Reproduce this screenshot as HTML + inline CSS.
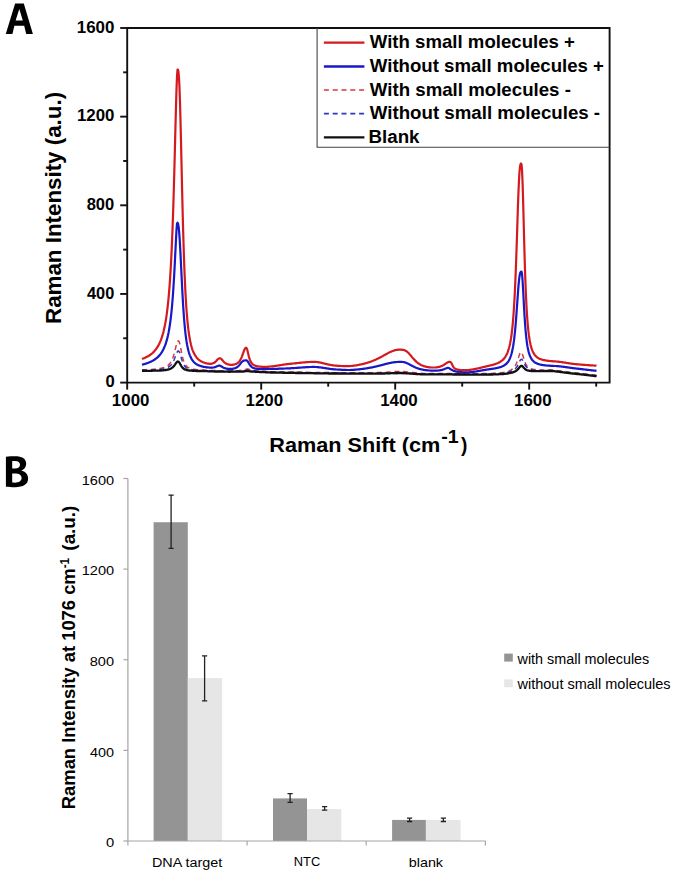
<!DOCTYPE html>
<html><head><meta charset="utf-8"><style>
html,body{margin:0;padding:0;background:#fff;}
svg{display:block;font-family:"Liberation Sans",sans-serif;}
text{white-space:pre;}
</style></head><body>
<svg width="675" height="873" viewBox="0 0 675 873">
<rect width="675" height="873" fill="#fff"/>

<path d="M5.8,34 L15.1,3.6 L23.8,3.6 L32.9,34 L26.2,34 L24.2,25.8 L14.4,25.8 L12.4,34 Z M15.6,20.6 L22.8,20.6 L19.3,8.9 Z" fill="#000" fill-rule="evenodd"/>
<path d="M5.9,456.8 C9,456.4 12,456.3 15,456.3 C22,456.3 26.2,458.6 26.2,463.8 C26.2,467.2 24.2,469.5 21.2,470.6 C25.2,471.6 28.1,474.3 28.1,478.6 C28.1,484.6 23.2,487.2 15.2,487.2 C11.5,487.2 8.2,487 5.9,486.7 Z M12.2,461.1 V468.6 H15 C18.2,468.6 20,467.2 20,464.8 C20,462.3 18.2,461 15.3,461 C13.8,461 12.8,461 12.2,461.1 Z M12.2,473.6 V482.6 C12.9,482.7 13.8,482.7 15,482.7 C18.6,482.7 21.6,481.3 21.6,478.1 C21.6,475 18.8,473.6 15,473.6 Z" fill="#000" fill-rule="evenodd"/>

<rect x="153.6" y="522.23" width="34.20" height="318.77" fill="#949494"/><rect x="187.8" y="678.10" width="34.30" height="162.90" fill="#e6e6e6"/><rect x="273.0" y="798.41" width="34.00" height="42.59" fill="#949494"/><rect x="307.0" y="809.05" width="34.30" height="31.95" fill="#e6e6e6"/><rect x="392.1" y="819.93" width="33.80" height="21.07" fill="#949494"/><rect x="425.9" y="819.93" width="34.70" height="21.07" fill="#e6e6e6"/><path d="M127.9,478.50 V841.0 H485.4" fill="none" stroke="#a6a6a6" stroke-width="1.2"/><line x1="123.4" y1="841.00" x2="127.9" y2="841.00" stroke="#a6a6a6" stroke-width="1.2"/><line x1="123.4" y1="750.38" x2="127.9" y2="750.38" stroke="#a6a6a6" stroke-width="1.2"/><line x1="123.4" y1="659.75" x2="127.9" y2="659.75" stroke="#a6a6a6" stroke-width="1.2"/><line x1="123.4" y1="569.12" x2="127.9" y2="569.12" stroke="#a6a6a6" stroke-width="1.2"/><line x1="123.4" y1="478.50" x2="127.9" y2="478.50" stroke="#a6a6a6" stroke-width="1.2"/><line x1="127.9" y1="841.0" x2="127.9" y2="845.5" stroke="#a6a6a6" stroke-width="1.2"/><line x1="247.1" y1="841.0" x2="247.1" y2="845.5" stroke="#a6a6a6" stroke-width="1.2"/><line x1="366.2" y1="841.0" x2="366.2" y2="845.5" stroke="#a6a6a6" stroke-width="1.2"/><line x1="485.4" y1="841.0" x2="485.4" y2="845.5" stroke="#a6a6a6" stroke-width="1.2"/><path d="M171.1,495.1 V548.4 M168.5,495.1 H173.7 M168.5,548.4 H173.7" stroke="#222" stroke-width="1.3" fill="none"/><path d="M204.6,655.8 V700.8 M202.0,655.8 H207.2 M202.0,700.8 H207.2" stroke="#222" stroke-width="1.3" fill="none"/><path d="M290.1,793.7 V802.4 M287.5,793.7 H292.70000000000005 M287.5,802.4 H292.70000000000005" stroke="#222" stroke-width="1.3" fill="none"/><path d="M324.6,806.7 V810.2 M322.0,806.7 H327.20000000000005 M322.0,810.2 H327.20000000000005" stroke="#222" stroke-width="1.3" fill="none"/><path d="M409.6,818.1 V821.5 M407.0,818.1 H412.20000000000005 M407.0,821.5 H412.20000000000005" stroke="#222" stroke-width="1.3" fill="none"/><path d="M443.4,818.1 V821.5 M440.79999999999995,818.1 H446.0 M440.79999999999995,821.5 H446.0" stroke="#222" stroke-width="1.3" fill="none"/><rect x="504.2" y="653.6" width="8.6" height="8.0" fill="#949494"/><rect x="504.2" y="679.4" width="8.6" height="7.8" fill="#e6e6e6"/>

<path d="M142.0,359.0 L142.5,358.8 L143.0,358.6 L143.5,358.4 L144.0,358.2 L144.5,358.0 L145.0,357.8 L145.5,357.6 L146.0,357.3 L146.5,357.1 L147.0,356.8 L147.5,356.5 L148.0,356.3 L148.5,356.0 L149.0,355.7 L149.5,355.3 L150.0,355.0 L150.5,354.6 L151.0,354.3 L151.5,353.9 L152.0,353.5 L152.5,353.0 L153.0,352.6 L153.5,352.1 L154.0,351.6 L154.5,351.0 L155.0,350.4 L155.5,349.8 L156.0,349.2 L156.5,348.5 L157.0,347.7 L157.5,347.0 L158.0,346.1 L158.5,345.2 L159.0,344.3 L159.5,343.2 L160.0,342.1 L160.5,341.0 L161.0,339.7 L161.5,338.3 L162.0,336.8 L162.5,335.2 L163.0,333.5 L163.5,331.6 L164.0,329.5 L164.5,327.2 L165.0,324.8 L165.5,322.1 L166.0,319.1 L166.5,315.8 L167.0,312.2 L167.5,308.1 L168.0,303.7 L168.5,298.7 L169.0,293.1 L169.5,286.9 L170.0,279.9 L170.5,272.1 L171.0,263.3 L171.5,253.4 L172.0,242.2 L172.5,229.7 L173.0,215.7 L173.5,200.1 L174.0,183.0 L174.5,164.5 L175.0,145.0 L175.5,125.2 L176.0,106.1 L176.5,89.2 L177.0,76.4 L177.5,69.7 L178.0,69.7 L178.5,72.0 L179.0,77.8 L179.5,88.0 L180.0,102.5 L180.5,120.7 L181.0,141.5 L181.5,163.5 L182.0,185.4 L182.5,206.3 L183.0,225.6 L183.5,243.0 L184.0,258.4 L184.5,271.9 L185.0,283.5 L185.5,293.6 L186.0,302.2 L186.5,309.7 L187.0,316.1 L187.5,321.6 L188.0,326.4 L188.5,330.6 L189.0,334.2 L189.5,337.3 L190.0,340.1 L190.5,342.5 L191.0,344.7 L191.5,346.6 L192.0,348.3 L192.5,349.8 L193.0,351.1 L193.5,352.3 L194.0,353.4 L194.5,354.3 L195.0,355.2 L195.5,356.0 L196.0,356.7 L196.5,357.4 L197.0,358.0 L197.5,358.5 L198.0,359.0 L198.5,359.5 L199.0,359.9 L199.5,360.3 L200.0,360.6 L200.5,360.9 L201.0,361.2 L201.5,361.5 L202.0,361.8 L202.5,362.0 L203.0,362.2 L203.5,362.4 L204.0,362.6 L204.5,362.8 L205.0,363.0 L205.5,363.1 L206.0,363.2 L206.5,363.4 L207.0,363.5 L207.5,363.6 L208.0,363.6 L208.5,363.7 L209.0,363.7 L209.5,363.8 L210.0,363.8 L210.5,363.8 L211.0,363.8 L211.5,363.7 L212.0,363.6 L212.5,363.5 L213.0,363.3 L213.5,363.1 L214.0,362.9 L214.5,362.5 L215.0,362.2 L215.5,361.7 L216.0,361.2 L216.5,360.6 L217.0,360.1 L217.5,359.5 L218.0,359.1 L218.5,358.7 L219.0,358.5 L219.5,358.3 L220.0,358.3 L220.5,358.4 L221.0,358.7 L221.5,359.1 L222.0,359.7 L222.5,360.3 L223.0,360.9 L223.5,361.5 L224.0,362.0 L224.5,362.5 L225.0,362.9 L225.5,363.2 L226.0,363.5 L226.5,363.8 L227.0,364.0 L227.5,364.2 L228.0,364.4 L228.5,364.5 L229.0,364.6 L229.5,364.7 L230.0,364.8 L230.5,364.8 L231.0,364.8 L231.5,364.8 L232.0,364.8 L232.5,364.8 L233.0,364.7 L233.5,364.7 L234.0,364.6 L234.5,364.4 L235.0,364.3 L235.5,364.1 L236.0,363.9 L236.5,363.7 L237.0,363.4 L237.5,363.1 L238.0,362.7 L238.5,362.2 L239.0,361.7 L239.5,361.1 L240.0,360.3 L240.5,359.5 L241.0,358.6 L241.5,357.5 L242.0,356.3 L242.5,355.0 L243.0,353.6 L243.5,352.1 L244.0,350.7 L244.5,349.5 L245.0,348.6 L245.5,348.0 L246.0,347.7 L246.5,347.9 L247.0,348.9 L247.5,350.7 L248.0,352.8 L248.5,355.0 L249.0,357.0 L249.5,358.7 L250.0,360.1 L250.5,361.3 L251.0,362.2 L251.5,363.0 L252.0,363.6 L252.5,364.1 L253.0,364.5 L253.5,364.9 L254.0,365.1 L254.5,365.4 L255.0,365.6 L255.5,365.8 L256.0,365.9 L256.5,366.1 L257.0,366.2 L257.5,366.3 L258.0,366.4 L258.5,366.5 L259.0,366.5 L259.5,366.6 L260.0,366.6 L260.5,366.7 L261.0,366.7 L261.5,366.8 L262.0,366.8 L262.5,366.8 L263.0,366.9 L263.5,366.9 L264.0,366.9 L264.5,366.9 L265.0,366.9 L265.5,366.9 L266.0,366.9 L266.5,366.9 L267.0,366.8 L267.5,366.8 L268.0,366.8 L268.5,366.7 L269.0,366.7 L269.5,366.6 L270.0,366.6 L270.5,366.5 L271.0,366.5 L271.5,366.4 L272.0,366.4 L272.5,366.3 L273.0,366.3 L273.5,366.2 L274.0,366.1 L274.5,366.0 L275.0,366.0 L275.5,365.9 L276.0,365.8 L276.5,365.8 L277.0,365.7 L277.5,365.6 L278.0,365.5 L278.5,365.4 L279.0,365.4 L279.5,365.3 L280.0,365.2 L280.5,365.1 L281.0,365.1 L281.5,365.0 L282.0,364.9 L282.5,364.8 L283.0,364.7 L283.5,364.7 L284.0,364.6 L284.5,364.5 L285.0,364.4 L285.5,364.4 L286.0,364.3 L286.5,364.2 L287.0,364.2 L287.5,364.1 L288.0,364.1 L288.5,364.0 L289.0,363.9 L289.5,363.9 L290.0,363.8 L290.5,363.8 L291.0,363.7 L291.5,363.7 L292.0,363.6 L292.5,363.6 L293.0,363.5 L293.5,363.5 L294.0,363.4 L294.5,363.4 L295.0,363.3 L295.5,363.3 L296.0,363.2 L296.5,363.2 L297.0,363.1 L297.5,363.1 L298.0,363.0 L298.5,362.9 L299.0,362.9 L299.5,362.8 L300.0,362.8 L300.5,362.7 L301.0,362.7 L301.5,362.6 L302.0,362.6 L302.5,362.5 L303.0,362.5 L303.5,362.4 L304.0,362.4 L304.5,362.4 L305.0,362.3 L305.5,362.3 L306.0,362.2 L306.5,362.2 L307.0,362.1 L307.5,362.1 L308.0,362.1 L308.5,362.0 L309.0,362.0 L309.5,362.0 L310.0,362.0 L310.5,361.9 L311.0,361.9 L311.5,361.9 L312.0,361.9 L312.5,361.8 L313.0,361.8 L313.5,361.8 L314.0,361.8 L314.5,361.8 L315.0,361.9 L315.5,361.9 L316.0,361.9 L316.5,362.0 L317.0,362.0 L317.5,362.1 L318.0,362.2 L318.5,362.3 L319.0,362.3 L319.5,362.4 L320.0,362.5 L320.5,362.6 L321.0,362.7 L321.5,362.8 L322.0,363.0 L322.5,363.1 L323.0,363.2 L323.5,363.3 L324.0,363.4 L324.5,363.6 L325.0,363.7 L325.5,363.8 L326.0,363.9 L326.5,364.1 L327.0,364.2 L327.5,364.3 L328.0,364.4 L328.5,364.5 L329.0,364.6 L329.5,364.7 L330.0,364.9 L330.5,365.0 L331.0,365.0 L331.5,365.1 L332.0,365.2 L332.5,365.3 L333.0,365.4 L333.5,365.4 L334.0,365.5 L334.5,365.5 L335.0,365.6 L335.5,365.6 L336.0,365.7 L336.5,365.7 L337.0,365.7 L337.5,365.8 L338.0,365.8 L338.5,365.8 L339.0,365.9 L339.5,365.9 L340.0,365.9 L340.5,366.0 L341.0,366.0 L341.5,366.0 L342.0,366.0 L342.5,366.1 L343.0,366.1 L343.5,366.1 L344.0,366.1 L344.5,366.1 L345.0,366.1 L345.5,366.1 L346.0,366.1 L346.5,366.1 L347.0,366.1 L347.5,366.1 L348.0,366.1 L348.5,366.1 L349.0,366.1 L349.5,366.1 L350.0,366.1 L350.5,366.0 L351.0,366.0 L351.5,366.0 L352.0,365.9 L352.5,365.9 L353.0,365.8 L353.5,365.7 L354.0,365.7 L354.5,365.6 L355.0,365.5 L355.5,365.5 L356.0,365.4 L356.5,365.3 L357.0,365.2 L357.5,365.1 L358.0,365.0 L358.5,364.9 L359.0,364.8 L359.5,364.7 L360.0,364.6 L360.5,364.5 L361.0,364.4 L361.5,364.3 L362.0,364.2 L362.5,364.1 L363.0,363.9 L363.5,363.8 L364.0,363.7 L364.5,363.6 L365.0,363.4 L365.5,363.3 L366.0,363.2 L366.5,363.0 L367.0,362.9 L367.5,362.7 L368.0,362.6 L368.5,362.4 L369.0,362.2 L369.5,362.1 L370.0,361.9 L370.5,361.7 L371.0,361.5 L371.5,361.4 L372.0,361.2 L372.5,361.0 L373.0,360.8 L373.5,360.6 L374.0,360.4 L374.5,360.1 L375.0,359.9 L375.5,359.7 L376.0,359.5 L376.5,359.3 L377.0,359.0 L377.5,358.8 L378.0,358.5 L378.5,358.3 L379.0,358.0 L379.5,357.8 L380.0,357.5 L380.5,357.2 L381.0,357.0 L381.5,356.7 L382.0,356.4 L382.5,356.2 L383.0,355.9 L383.5,355.6 L384.0,355.3 L384.5,355.0 L385.0,354.8 L385.5,354.5 L386.0,354.2 L386.5,353.9 L387.0,353.7 L387.5,353.4 L388.0,353.1 L388.5,352.9 L389.0,352.6 L389.5,352.4 L390.0,352.1 L390.5,351.9 L391.0,351.7 L391.5,351.4 L392.0,351.2 L392.5,351.0 L393.0,350.9 L393.5,350.7 L394.0,350.5 L394.5,350.4 L395.0,350.2 L395.5,350.1 L396.0,350.0 L396.5,349.9 L397.0,349.9 L397.5,349.8 L398.0,349.7 L398.5,349.7 L399.0,349.7 L399.5,349.7 L400.0,349.7 L400.5,349.7 L401.0,349.7 L401.5,349.7 L402.0,349.7 L402.5,349.8 L403.0,349.9 L403.5,349.9 L404.0,350.1 L404.5,350.2 L405.0,350.4 L405.5,350.7 L406.0,351.0 L406.5,351.3 L407.0,351.7 L407.5,352.1 L408.0,352.5 L408.5,353.0 L409.0,353.5 L409.5,354.1 L410.0,354.7 L410.5,355.2 L411.0,355.8 L411.5,356.4 L412.0,357.1 L412.5,357.7 L413.0,358.2 L413.5,358.8 L414.0,359.4 L414.5,359.9 L415.0,360.4 L415.5,360.9 L416.0,361.4 L416.5,361.9 L417.0,362.3 L417.5,362.7 L418.0,363.1 L418.5,363.5 L419.0,363.8 L419.5,364.1 L420.0,364.4 L420.5,364.7 L421.0,365.0 L421.5,365.2 L422.0,365.4 L422.5,365.6 L423.0,365.8 L423.5,366.0 L424.0,366.2 L424.5,366.3 L425.0,366.5 L425.5,366.6 L426.0,366.7 L426.5,366.8 L427.0,366.9 L427.5,367.0 L428.0,367.1 L428.5,367.2 L429.0,367.3 L429.5,367.3 L430.0,367.4 L430.5,367.4 L431.0,367.5 L431.5,367.5 L432.0,367.5 L432.5,367.5 L433.0,367.5 L433.5,367.5 L434.0,367.5 L434.5,367.5 L435.0,367.5 L435.5,367.5 L436.0,367.4 L436.5,367.4 L437.0,367.3 L437.5,367.2 L438.0,367.1 L438.5,367.1 L439.0,366.9 L439.5,366.8 L440.0,366.7 L440.5,366.5 L441.0,366.3 L441.5,366.1 L442.0,365.9 L442.5,365.6 L443.0,365.4 L443.5,365.1 L444.0,364.8 L444.5,364.4 L445.0,364.1 L445.5,363.7 L446.0,363.4 L446.5,363.0 L447.0,362.7 L447.5,362.4 L448.0,362.2 L448.5,362.0 L449.0,361.9 L449.5,361.9 L450.0,361.9 L450.5,362.1 L451.0,362.5 L451.5,363.2 L452.0,364.2 L452.5,365.3 L453.0,366.3 L453.5,367.1 L454.0,367.7 L454.5,368.2 L455.0,368.6 L455.5,368.9 L456.0,369.1 L456.5,369.3 L457.0,369.5 L457.5,369.6 L458.0,369.7 L458.5,369.8 L459.0,369.8 L459.5,369.9 L460.0,370.0 L460.5,370.0 L461.0,370.0 L461.5,370.1 L462.0,370.1 L462.5,370.1 L463.0,370.1 L463.5,370.2 L464.0,370.2 L464.5,370.2 L465.0,370.2 L465.5,370.2 L466.0,370.2 L466.5,370.2 L467.0,370.1 L467.5,370.1 L468.0,370.1 L468.5,370.0 L469.0,370.0 L469.5,369.9 L470.0,369.9 L470.5,369.8 L471.0,369.7 L471.5,369.7 L472.0,369.6 L472.5,369.5 L473.0,369.4 L473.5,369.3 L474.0,369.2 L474.5,369.1 L475.0,369.0 L475.5,368.9 L476.0,368.8 L476.5,368.7 L477.0,368.6 L477.5,368.5 L478.0,368.4 L478.5,368.3 L479.0,368.2 L479.5,368.0 L480.0,367.9 L480.5,367.8 L481.0,367.7 L481.5,367.5 L482.0,367.4 L482.5,367.3 L483.0,367.2 L483.5,367.1 L484.0,366.9 L484.5,366.8 L485.0,366.7 L485.5,366.6 L486.0,366.5 L486.5,366.3 L487.0,366.2 L487.5,366.1 L488.0,366.0 L488.5,365.9 L489.0,365.8 L489.5,365.6 L490.0,365.5 L490.5,365.4 L491.0,365.3 L491.5,365.2 L492.0,365.1 L492.5,364.9 L493.0,364.8 L493.5,364.6 L494.0,364.5 L494.5,364.3 L495.0,364.2 L495.5,364.0 L496.0,363.8 L496.5,363.6 L497.0,363.4 L497.5,363.2 L498.0,363.0 L498.5,362.8 L499.0,362.5 L499.5,362.2 L500.0,362.0 L500.5,361.6 L501.0,361.3 L501.5,360.9 L502.0,360.5 L502.5,360.1 L503.0,359.6 L503.5,359.1 L504.0,358.6 L504.5,358.0 L505.0,357.3 L505.5,356.5 L506.0,355.7 L506.5,354.8 L507.0,353.7 L507.5,352.6 L508.0,351.2 L508.5,349.7 L509.0,348.0 L509.5,346.1 L510.0,343.9 L510.5,341.3 L511.0,338.4 L511.5,335.0 L512.0,331.0 L512.5,326.4 L513.0,321.0 L513.5,314.7 L514.0,307.3 L514.5,298.8 L515.0,288.8 L515.5,277.5 L516.0,264.6 L516.5,250.5 L517.0,235.4 L517.5,219.8 L518.0,204.8 L518.5,191.2 L519.0,180.0 L519.5,171.7 L520.0,166.6 L520.5,164.1 L521.0,163.5 L521.5,164.4 L522.0,169.7 L522.5,180.7 L523.0,196.5 L523.5,215.2 L524.0,234.7 L524.5,253.2 L525.0,269.8 L525.5,284.2 L526.0,296.3 L526.5,306.4 L527.0,314.7 L527.5,321.6 L528.0,327.3 L528.5,332.0 L529.0,335.9 L529.5,339.2 L530.0,342.0 L530.5,344.4 L531.0,346.4 L531.5,348.1 L532.0,349.6 L532.5,350.9 L533.0,352.0 L533.5,352.9 L534.0,353.8 L534.5,354.5 L535.0,355.2 L535.5,355.8 L536.0,356.3 L536.5,356.8 L537.0,357.2 L537.5,357.6 L538.0,357.9 L538.5,358.2 L539.0,358.5 L539.5,358.7 L540.0,358.9 L540.5,359.1 L541.0,359.3 L541.5,359.5 L542.0,359.6 L542.5,359.8 L543.0,359.9 L543.5,360.0 L544.0,360.1 L544.5,360.2 L545.0,360.3 L545.5,360.4 L546.0,360.5 L546.5,360.6 L547.0,360.7 L547.5,360.7 L548.0,360.8 L548.5,360.8 L549.0,360.9 L549.5,361.0 L550.0,361.0 L550.5,361.1 L551.0,361.1 L551.5,361.1 L552.0,361.2 L552.5,361.2 L553.0,361.3 L553.5,361.3 L554.0,361.3 L554.5,361.4 L555.0,361.4 L555.5,361.4 L556.0,361.5 L556.5,361.5 L557.0,361.6 L557.5,361.6 L558.0,361.7 L558.5,361.7 L559.0,361.8 L559.5,361.8 L560.0,361.9 L560.5,362.0 L561.0,362.0 L561.5,362.1 L562.0,362.2 L562.5,362.3 L563.0,362.3 L563.5,362.4 L564.0,362.5 L564.5,362.6 L565.0,362.7 L565.5,362.7 L566.0,362.8 L566.5,362.9 L567.0,363.0 L567.5,363.1 L568.0,363.1 L568.5,363.2 L569.0,363.3 L569.5,363.4 L570.0,363.4 L570.5,363.5 L571.0,363.6 L571.5,363.7 L572.0,363.7 L572.5,363.8 L573.0,363.9 L573.5,363.9 L574.0,364.0 L574.5,364.0 L575.0,364.1 L575.5,364.1 L576.0,364.2 L576.5,364.2 L577.0,364.3 L577.5,364.3 L578.0,364.4 L578.5,364.4 L579.0,364.4 L579.5,364.5 L580.0,364.5 L580.5,364.6 L581.0,364.6 L581.5,364.7 L582.0,364.7 L582.5,364.7 L583.0,364.8 L583.5,364.8 L584.0,364.9 L584.5,364.9 L585.0,364.9 L585.5,365.0 L586.0,365.0 L586.5,365.0 L587.0,365.1 L587.5,365.1 L588.0,365.1 L588.5,365.2 L589.0,365.2 L589.5,365.3 L590.0,365.3 L590.5,365.3 L591.0,365.4 L591.5,365.4 L592.0,365.4 L592.5,365.4 L593.0,365.5 L593.5,365.5 L594.0,365.5 L594.5,365.6 L595.0,365.6 L595.5,365.6 L596.0,365.6 L596.5,365.7" stroke="#d41a1e" stroke-width="2.2" fill="none" stroke-linejoin="round"/>
<path d="M142.0,364.7 L142.5,364.6 L143.0,364.4 L143.5,364.3 L144.0,364.2 L144.5,364.0 L145.0,363.9 L145.5,363.7 L146.0,363.6 L146.5,363.4 L147.0,363.2 L147.5,363.1 L148.0,362.9 L148.5,362.7 L149.0,362.5 L149.5,362.3 L150.0,362.1 L150.5,361.9 L151.0,361.6 L151.5,361.4 L152.0,361.1 L152.5,360.9 L153.0,360.6 L153.5,360.3 L154.0,360.0 L154.5,359.7 L155.0,359.3 L155.5,359.0 L156.0,358.6 L156.5,358.2 L157.0,357.8 L157.5,357.4 L158.0,356.9 L158.5,356.4 L159.0,355.9 L159.5,355.3 L160.0,354.7 L160.5,354.1 L161.0,353.4 L161.5,352.6 L162.0,351.9 L162.5,351.0 L163.0,350.1 L163.5,349.1 L164.0,348.1 L164.5,346.9 L165.0,345.7 L165.5,344.3 L166.0,342.8 L166.5,341.2 L167.0,339.4 L167.5,337.4 L168.0,335.3 L168.5,332.9 L169.0,330.2 L169.5,327.3 L170.0,324.0 L170.5,320.3 L171.0,316.2 L171.5,311.6 L172.0,306.3 L172.5,300.5 L173.0,293.9 L173.5,286.5 L174.0,278.3 L174.5,269.2 L175.0,259.5 L175.5,249.3 L176.0,239.2 L176.5,230.1 L177.0,223.6 L177.5,222.7 L178.0,223.5 L178.5,225.9 L179.0,230.2 L179.5,236.6 L180.0,244.7 L180.5,254.1 L181.0,264.3 L181.5,274.7 L182.0,284.8 L182.5,294.4 L183.0,303.1 L183.5,310.9 L184.0,317.8 L184.5,323.9 L185.0,329.2 L185.5,333.8 L186.0,337.7 L186.5,341.2 L187.0,344.2 L187.5,346.8 L188.0,349.0 L188.5,351.0 L189.0,352.8 L189.5,354.3 L190.0,355.6 L190.5,356.8 L191.0,357.9 L191.5,358.8 L192.0,359.6 L192.5,360.4 L193.0,361.0 L193.5,361.6 L194.0,362.2 L194.5,362.7 L195.0,363.1 L195.5,363.5 L196.0,363.9 L196.5,364.2 L197.0,364.5 L197.5,364.8 L198.0,365.0 L198.5,365.2 L199.0,365.5 L199.5,365.6 L200.0,365.8 L200.5,366.0 L201.0,366.1 L201.5,366.3 L202.0,366.4 L202.5,366.5 L203.0,366.7 L203.5,366.8 L204.0,366.9 L204.5,367.0 L205.0,367.0 L205.5,367.1 L206.0,367.2 L206.5,367.3 L207.0,367.3 L207.5,367.4 L208.0,367.4 L208.5,367.5 L209.0,367.5 L209.5,367.6 L210.0,367.6 L210.5,367.6 L211.0,367.6 L211.5,367.6 L212.0,367.6 L212.5,367.6 L213.0,367.5 L213.5,367.5 L214.0,367.4 L214.5,367.3 L215.0,367.1 L215.5,367.0 L216.0,366.8 L216.5,366.6 L217.0,366.3 L217.5,366.1 L218.0,365.9 L218.5,365.7 L219.0,365.6 L219.5,365.6 L220.0,365.7 L220.5,365.9 L221.0,366.2 L221.5,366.5 L222.0,366.8 L222.5,367.1 L223.0,367.4 L223.5,367.7 L224.0,367.9 L224.5,368.1 L225.0,368.2 L225.5,368.4 L226.0,368.5 L226.5,368.6 L227.0,368.7 L227.5,368.8 L228.0,368.8 L228.5,368.9 L229.0,368.9 L229.5,368.9 L230.0,368.9 L230.5,368.9 L231.0,368.9 L231.5,368.9 L232.0,368.9 L232.5,368.8 L233.0,368.7 L233.5,368.6 L234.0,368.5 L234.5,368.4 L235.0,368.3 L235.5,368.1 L236.0,367.8 L236.5,367.6 L237.0,367.3 L237.5,366.9 L238.0,366.5 L238.5,366.0 L239.0,365.5 L239.5,364.9 L240.0,364.2 L240.5,363.6 L241.0,362.9 L241.5,362.3 L242.0,361.8 L242.5,361.4 L243.0,361.0 L243.5,360.7 L244.0,360.6 L244.5,360.5 L245.0,360.4 L245.5,360.4 L246.0,360.4 L246.5,360.4 L247.0,360.7 L247.5,361.1 L248.0,361.8 L248.5,362.6 L249.0,363.5 L249.5,364.3 L250.0,365.1 L250.5,365.8 L251.0,366.3 L251.5,366.8 L252.0,367.2 L252.5,367.5 L253.0,367.8 L253.5,368.0 L254.0,368.2 L254.5,368.3 L255.0,368.5 L255.5,368.6 L256.0,368.7 L256.5,368.7 L257.0,368.8 L257.5,368.8 L258.0,368.9 L258.5,368.9 L259.0,368.9 L259.5,369.0 L260.0,369.0 L260.5,369.0 L261.0,369.0 L261.5,369.0 L262.0,369.0 L262.5,369.0 L263.0,369.1 L263.5,369.1 L264.0,369.1 L264.5,369.1 L265.0,369.1 L265.5,369.1 L266.0,369.0 L266.5,369.0 L267.0,369.0 L267.5,369.0 L268.0,369.0 L268.5,369.0 L269.0,369.0 L269.5,369.0 L270.0,369.0 L270.5,369.0 L271.0,369.0 L271.5,369.0 L272.0,368.9 L272.5,368.9 L273.0,368.9 L273.5,368.9 L274.0,368.9 L274.5,368.9 L275.0,368.9 L275.5,368.8 L276.0,368.8 L276.5,368.8 L277.0,368.8 L277.5,368.8 L278.0,368.8 L278.5,368.7 L279.0,368.7 L279.5,368.7 L280.0,368.7 L280.5,368.7 L281.0,368.7 L281.5,368.6 L282.0,368.6 L282.5,368.6 L283.0,368.6 L283.5,368.6 L284.0,368.5 L284.5,368.5 L285.0,368.5 L285.5,368.5 L286.0,368.5 L286.5,368.4 L287.0,368.4 L287.5,368.4 L288.0,368.4 L288.5,368.4 L289.0,368.3 L289.5,368.3 L290.0,368.3 L290.5,368.3 L291.0,368.2 L291.5,368.2 L292.0,368.2 L292.5,368.2 L293.0,368.1 L293.5,368.1 L294.0,368.1 L294.5,368.0 L295.0,368.0 L295.5,368.0 L296.0,367.9 L296.5,367.9 L297.0,367.9 L297.5,367.8 L298.0,367.8 L298.5,367.7 L299.0,367.7 L299.5,367.7 L300.0,367.6 L300.5,367.6 L301.0,367.6 L301.5,367.5 L302.0,367.5 L302.5,367.4 L303.0,367.4 L303.5,367.4 L304.0,367.3 L304.5,367.3 L305.0,367.3 L305.5,367.2 L306.0,367.2 L306.5,367.2 L307.0,367.2 L307.5,367.1 L308.0,367.1 L308.5,367.1 L309.0,367.1 L309.5,367.0 L310.0,367.0 L310.5,367.0 L311.0,367.0 L311.5,367.0 L312.0,366.9 L312.5,366.9 L313.0,366.9 L313.5,366.9 L314.0,366.9 L314.5,366.9 L315.0,367.0 L315.5,367.0 L316.0,367.0 L316.5,367.0 L317.0,367.1 L317.5,367.1 L318.0,367.2 L318.5,367.2 L319.0,367.3 L319.5,367.3 L320.0,367.4 L320.5,367.4 L321.0,367.5 L321.5,367.6 L322.0,367.7 L322.5,367.7 L323.0,367.8 L323.5,367.9 L324.0,368.0 L324.5,368.0 L325.0,368.1 L325.5,368.2 L326.0,368.3 L326.5,368.4 L327.0,368.4 L327.5,368.5 L328.0,368.6 L328.5,368.7 L329.0,368.7 L329.5,368.8 L330.0,368.9 L330.5,369.0 L331.0,369.0 L331.5,369.1 L332.0,369.1 L332.5,369.2 L333.0,369.2 L333.5,369.3 L334.0,369.3 L334.5,369.4 L335.0,369.4 L335.5,369.4 L336.0,369.5 L336.5,369.5 L337.0,369.5 L337.5,369.5 L338.0,369.6 L338.5,369.6 L339.0,369.6 L339.5,369.7 L340.0,369.7 L340.5,369.7 L341.0,369.7 L341.5,369.8 L342.0,369.8 L342.5,369.8 L343.0,369.8 L343.5,369.9 L344.0,369.9 L344.5,369.9 L345.0,369.9 L345.5,369.9 L346.0,369.9 L346.5,370.0 L347.0,370.0 L347.5,370.0 L348.0,370.0 L348.5,370.0 L349.0,370.0 L349.5,370.0 L350.0,370.0 L350.5,370.0 L351.0,369.9 L351.5,369.9 L352.0,369.9 L352.5,369.9 L353.0,369.9 L353.5,369.8 L354.0,369.8 L354.5,369.7 L355.0,369.7 L355.5,369.7 L356.0,369.6 L356.5,369.6 L357.0,369.5 L357.5,369.5 L358.0,369.4 L358.5,369.4 L359.0,369.3 L359.5,369.3 L360.0,369.2 L360.5,369.1 L361.0,369.1 L361.5,369.0 L362.0,369.0 L362.5,368.9 L363.0,368.8 L363.5,368.8 L364.0,368.7 L364.5,368.6 L365.0,368.6 L365.5,368.5 L366.0,368.4 L366.5,368.3 L367.0,368.3 L367.5,368.2 L368.0,368.1 L368.5,368.0 L369.0,367.9 L369.5,367.8 L370.0,367.7 L370.5,367.7 L371.0,367.6 L371.5,367.5 L372.0,367.4 L372.5,367.3 L373.0,367.2 L373.5,367.1 L374.0,366.9 L374.5,366.8 L375.0,366.7 L375.5,366.6 L376.0,366.5 L376.5,366.4 L377.0,366.3 L377.5,366.1 L378.0,366.0 L378.5,365.9 L379.0,365.8 L379.5,365.6 L380.0,365.5 L380.5,365.4 L381.0,365.3 L381.5,365.1 L382.0,365.0 L382.5,364.9 L383.0,364.7 L383.5,364.6 L384.0,364.5 L384.5,364.3 L385.0,364.2 L385.5,364.1 L386.0,363.9 L386.5,363.8 L387.0,363.7 L387.5,363.6 L388.0,363.4 L388.5,363.3 L389.0,363.2 L389.5,363.1 L390.0,363.0 L390.5,362.9 L391.0,362.8 L391.5,362.7 L392.0,362.6 L392.5,362.5 L393.0,362.4 L393.5,362.4 L394.0,362.3 L394.5,362.2 L395.0,362.2 L395.5,362.1 L396.0,362.1 L396.5,362.0 L397.0,362.0 L397.5,362.0 L398.0,361.9 L398.5,361.9 L399.0,361.9 L399.5,361.9 L400.0,361.9 L400.5,361.9 L401.0,361.9 L401.5,361.9 L402.0,361.9 L402.5,362.0 L403.0,362.0 L403.5,362.1 L404.0,362.2 L404.5,362.3 L405.0,362.4 L405.5,362.6 L406.0,362.8 L406.5,362.9 L407.0,363.2 L407.5,363.4 L408.0,363.6 L408.5,363.9 L409.0,364.1 L409.5,364.4 L410.0,364.7 L410.5,365.0 L411.0,365.2 L411.5,365.5 L412.0,365.8 L412.5,366.1 L413.0,366.3 L413.5,366.6 L414.0,366.8 L414.5,367.1 L415.0,367.3 L415.5,367.5 L416.0,367.7 L416.5,367.9 L417.0,368.1 L417.5,368.3 L418.0,368.5 L418.5,368.6 L419.0,368.8 L419.5,368.9 L420.0,369.1 L420.5,369.2 L421.0,369.3 L421.5,369.4 L422.0,369.5 L422.5,369.6 L423.0,369.7 L423.5,369.8 L424.0,369.9 L424.5,370.0 L425.0,370.1 L425.5,370.1 L426.0,370.2 L426.5,370.2 L427.0,370.3 L427.5,370.3 L428.0,370.4 L428.5,370.4 L429.0,370.5 L429.5,370.5 L430.0,370.5 L430.5,370.6 L431.0,370.6 L431.5,370.6 L432.0,370.6 L432.5,370.7 L433.0,370.7 L433.5,370.7 L434.0,370.7 L434.5,370.7 L435.0,370.7 L435.5,370.7 L436.0,370.6 L436.5,370.6 L437.0,370.6 L437.5,370.6 L438.0,370.5 L438.5,370.5 L439.0,370.4 L439.5,370.4 L440.0,370.3 L440.5,370.2 L441.0,370.1 L441.5,370.0 L442.0,369.9 L442.5,369.7 L443.0,369.6 L443.5,369.4 L444.0,369.2 L444.5,369.0 L445.0,368.8 L445.5,368.6 L446.0,368.4 L446.5,368.2 L447.0,368.0 L447.5,367.9 L448.0,367.9 L448.5,367.9 L449.0,368.1 L449.5,368.4 L450.0,368.8 L450.5,369.1 L451.0,369.5 L451.5,369.8 L452.0,370.1 L452.5,370.3 L453.0,370.6 L453.5,370.8 L454.0,370.9 L454.5,371.1 L455.0,371.2 L455.5,371.4 L456.0,371.5 L456.5,371.6 L457.0,371.7 L457.5,371.8 L458.0,371.8 L458.5,371.9 L459.0,372.0 L459.5,372.0 L460.0,372.1 L460.5,372.1 L461.0,372.2 L461.5,372.2 L462.0,372.3 L462.5,372.3 L463.0,372.3 L463.5,372.4 L464.0,372.4 L464.5,372.4 L465.0,372.4 L465.5,372.4 L466.0,372.4 L466.5,372.4 L467.0,372.4 L467.5,372.4 L468.0,372.4 L468.5,372.4 L469.0,372.3 L469.5,372.3 L470.0,372.2 L470.5,372.2 L471.0,372.1 L471.5,372.1 L472.0,372.0 L472.5,372.0 L473.0,371.9 L473.5,371.8 L474.0,371.8 L474.5,371.7 L475.0,371.6 L475.5,371.5 L476.0,371.5 L476.5,371.4 L477.0,371.3 L477.5,371.2 L478.0,371.1 L478.5,371.0 L479.0,371.0 L479.5,370.9 L480.0,370.8 L480.5,370.7 L481.0,370.6 L481.5,370.5 L482.0,370.4 L482.5,370.3 L483.0,370.2 L483.5,370.1 L484.0,370.1 L484.5,370.0 L485.0,369.9 L485.5,369.8 L486.0,369.7 L486.5,369.6 L487.0,369.6 L487.5,369.5 L488.0,369.4 L488.5,369.3 L489.0,369.3 L489.5,369.2 L490.0,369.1 L490.5,369.1 L491.0,369.0 L491.5,368.9 L492.0,368.9 L492.5,368.8 L493.0,368.7 L493.5,368.6 L494.0,368.6 L494.5,368.5 L495.0,368.4 L495.5,368.3 L496.0,368.2 L496.5,368.1 L497.0,368.0 L497.5,367.9 L498.0,367.8 L498.5,367.6 L499.0,367.5 L499.5,367.4 L500.0,367.2 L500.5,367.1 L501.0,366.9 L501.5,366.7 L502.0,366.5 L502.5,366.3 L503.0,366.0 L503.5,365.8 L504.0,365.5 L504.5,365.2 L505.0,364.8 L505.5,364.5 L506.0,364.1 L506.5,363.6 L507.0,363.1 L507.5,362.5 L508.0,361.8 L508.5,361.1 L509.0,360.3 L509.5,359.3 L510.0,358.2 L510.5,356.9 L511.0,355.5 L511.5,353.8 L512.0,351.9 L512.5,349.6 L513.0,347.0 L513.5,343.9 L514.0,340.4 L514.5,336.2 L515.0,331.5 L515.5,326.1 L516.0,320.0 L516.5,313.4 L517.0,306.3 L517.5,299.1 L518.0,292.1 L518.5,285.7 L519.0,280.4 L519.5,276.4 L520.0,273.7 L520.5,272.2 L521.0,271.7 L521.5,271.6 L522.0,273.9 L522.5,279.6 L523.0,287.8 L523.5,297.2 L524.0,306.6 L524.5,315.4 L525.0,323.0 L525.5,329.5 L526.0,335.0 L526.5,339.6 L527.0,343.3 L527.5,346.5 L528.0,349.1 L528.5,351.3 L529.0,353.1 L529.5,354.7 L530.0,356.0 L530.5,357.1 L531.0,358.1 L531.5,358.9 L532.0,359.7 L532.5,360.3 L533.0,360.8 L533.5,361.3 L534.0,361.8 L534.5,362.2 L535.0,362.5 L535.5,362.8 L536.0,363.1 L536.5,363.3 L537.0,363.6 L537.5,363.8 L538.0,363.9 L538.5,364.1 L539.0,364.3 L539.5,364.4 L540.0,364.5 L540.5,364.6 L541.0,364.7 L541.5,364.8 L542.0,364.9 L542.5,365.0 L543.0,365.1 L543.5,365.1 L544.0,365.2 L544.5,365.3 L545.0,365.3 L545.5,365.4 L546.0,365.4 L546.5,365.5 L547.0,365.5 L547.5,365.6 L548.0,365.6 L548.5,365.6 L549.0,365.7 L549.5,365.7 L550.0,365.7 L550.5,365.8 L551.0,365.8 L551.5,365.8 L552.0,365.9 L552.5,365.9 L553.0,365.9 L553.5,365.9 L554.0,366.0 L554.5,366.0 L555.0,366.0 L555.5,366.0 L556.0,366.0 L556.5,366.1 L557.0,366.1 L557.5,366.1 L558.0,366.2 L558.5,366.2 L559.0,366.3 L559.5,366.3 L560.0,366.4 L560.5,366.4 L561.0,366.5 L561.5,366.6 L562.0,366.6 L562.5,366.7 L563.0,366.7 L563.5,366.8 L564.0,366.9 L564.5,366.9 L565.0,367.0 L565.5,367.1 L566.0,367.1 L566.5,367.2 L567.0,367.3 L567.5,367.4 L568.0,367.4 L568.5,367.5 L569.0,367.6 L569.5,367.7 L570.0,367.7 L570.5,367.8 L571.0,367.9 L571.5,367.9 L572.0,368.0 L572.5,368.1 L573.0,368.1 L573.5,368.2 L574.0,368.3 L574.5,368.3 L575.0,368.4 L575.5,368.4 L576.0,368.5 L576.5,368.6 L577.0,368.6 L577.5,368.7 L578.0,368.7 L578.5,368.8 L579.0,368.8 L579.5,368.9 L580.0,368.9 L580.5,369.0 L581.0,369.1 L581.5,369.1 L582.0,369.2 L582.5,369.2 L583.0,369.3 L583.5,369.3 L584.0,369.4 L584.5,369.5 L585.0,369.5 L585.5,369.6 L586.0,369.6 L586.5,369.7 L587.0,369.8 L587.5,369.8 L588.0,369.9 L588.5,369.9 L589.0,370.0 L589.5,370.0 L590.0,370.1 L590.5,370.2 L591.0,370.2 L591.5,370.3 L592.0,370.3 L592.5,370.4 L593.0,370.4 L593.5,370.5 L594.0,370.6 L594.5,370.6 L595.0,370.7 L595.5,370.7 L596.0,370.8 L596.5,370.9" stroke="#1818c8" stroke-width="2.2" fill="none" stroke-linejoin="round"/>
<path d="M142.0,369.8 L142.5,369.8 L143.0,369.8 L143.5,369.8 L144.0,369.8 L144.5,369.8 L145.0,369.7 L145.5,369.7 L146.0,369.7 L146.5,369.7 L147.0,369.7 L147.5,369.6 L148.0,369.6 L148.5,369.6 L149.0,369.6 L149.5,369.6 L150.0,369.5 L150.5,369.5 L151.0,369.5 L151.5,369.4 L152.0,369.4 L152.5,369.4 L153.0,369.3 L153.5,369.3 L154.0,369.3 L154.5,369.2 L155.0,369.2 L155.5,369.1 L156.0,369.1 L156.5,369.0 L157.0,369.0 L157.5,368.9 L158.0,368.8 L158.5,368.8 L159.0,368.7 L159.5,368.6 L160.0,368.5 L160.5,368.4 L161.0,368.3 L161.5,368.2 L162.0,368.1 L162.5,368.0 L163.0,367.8 L163.5,367.7 L164.0,367.5 L164.5,367.3 L165.0,367.1 L165.5,366.9 L166.0,366.6 L166.5,366.4 L167.0,366.1 L167.5,365.7 L168.0,365.3 L168.5,364.9 L169.0,364.4 L169.5,363.9 L170.0,363.3 L170.5,362.6 L171.0,361.8 L171.5,360.9 L172.0,359.9 L172.5,358.7 L173.0,357.4 L173.5,355.9 L174.0,354.3 L174.5,352.5 L175.0,350.5 L175.5,348.4 L176.0,346.4 L176.5,344.4 L177.0,342.8 L177.5,341.6 L178.0,341.0 L178.5,341.0 L179.0,341.5 L179.5,342.8 L180.0,344.7 L180.5,347.1 L181.0,349.7 L181.5,352.3 L182.0,354.7 L182.5,356.9 L183.0,358.8 L183.5,360.4 L184.0,361.8 L184.5,362.9 L185.0,363.9 L185.5,364.7 L186.0,365.4 L186.5,366.0 L187.0,366.5 L187.5,366.9 L188.0,367.3 L188.5,367.6 L189.0,367.9 L189.5,368.1 L190.0,368.3 L190.5,368.5 L191.0,368.7 L191.5,368.8 L192.0,368.9 L192.5,369.0 L193.0,369.1 L193.5,369.2 L194.0,369.3 L194.5,369.4 L195.0,369.5 L195.5,369.5 L196.0,369.6 L196.5,369.6 L197.0,369.7 L197.5,369.7 L198.0,369.8 L198.5,369.8 L199.0,369.8 L199.5,369.9 L200.0,369.9 L200.5,369.9 L201.0,369.9 L201.5,370.0 L202.0,370.0 L202.5,370.0 L203.0,370.0 L203.5,370.1 L204.0,370.1 L204.5,370.1 L205.0,370.1 L205.5,370.2 L206.0,370.2 L206.5,370.2 L207.0,370.2 L207.5,370.2 L208.0,370.3 L208.5,370.3 L209.0,370.3 L209.5,370.3 L210.0,370.3 L210.5,370.4 L211.0,370.4 L211.5,370.4 L212.0,370.4 L212.5,370.4 L213.0,370.5 L213.5,370.5 L214.0,370.5 L214.5,370.5 L215.0,370.5 L215.5,370.6 L216.0,370.6 L216.5,370.6 L217.0,370.6 L217.5,370.6 L218.0,370.6 L218.5,370.7 L219.0,370.7 L219.5,370.7 L220.0,370.7 L220.5,370.7 L221.0,370.7 L221.5,370.7 L222.0,370.8 L222.5,370.8 L223.0,370.8 L223.5,370.8 L224.0,370.8 L224.5,370.8 L225.0,370.8 L225.5,370.8 L226.0,370.8 L226.5,370.8 L227.0,370.8 L227.5,370.8 L228.0,370.8 L228.5,370.8 L229.0,370.8 L229.5,370.8 L230.0,370.8 L230.5,370.8 L231.0,370.8 L231.5,370.8 L232.0,370.8 L232.5,370.8 L233.0,370.8 L233.5,370.8 L234.0,370.8 L234.5,370.8 L235.0,370.8 L235.5,370.8 L236.0,370.8 L236.5,370.7 L237.0,370.7 L237.5,370.7 L238.0,370.7 L238.5,370.7 L239.0,370.6 L239.5,370.6 L240.0,370.6 L240.5,370.5 L241.0,370.5 L241.5,370.4 L242.0,370.3 L242.5,370.3 L243.0,370.2 L243.5,370.0 L244.0,369.9 L244.5,369.7 L245.0,369.6 L245.5,369.4 L246.0,369.2 L246.5,369.1 L247.0,369.0 L247.5,369.0 L248.0,369.0 L248.5,369.2 L249.0,369.3 L249.5,369.5 L250.0,369.7 L250.5,369.9 L251.0,370.0 L251.5,370.1 L252.0,370.3 L252.5,370.4 L253.0,370.4 L253.5,370.5 L254.0,370.6 L254.5,370.6 L255.0,370.7 L255.5,370.7 L256.0,370.8 L256.5,370.8 L257.0,370.9 L257.5,370.9 L258.0,370.9 L258.5,371.0 L259.0,371.0 L259.5,371.0 L260.0,371.1 L260.5,371.1 L261.0,371.1 L261.5,371.2 L262.0,371.2 L262.5,371.2 L263.0,371.2 L263.5,371.3 L264.0,371.3 L264.5,371.3 L265.0,371.4 L265.5,371.4 L266.0,371.4 L266.5,371.4 L267.0,371.5 L267.5,371.5 L268.0,371.5 L268.5,371.5 L269.0,371.6 L269.5,371.6 L270.0,371.6 L270.5,371.6 L271.0,371.6 L271.5,371.7 L272.0,371.7 L272.5,371.7 L273.0,371.7 L273.5,371.7 L274.0,371.7 L274.5,371.7 L275.0,371.8 L275.5,371.8 L276.0,371.8 L276.5,371.8 L277.0,371.8 L277.5,371.8 L278.0,371.8 L278.5,371.8 L279.0,371.8 L279.5,371.9 L280.0,371.9 L280.5,371.9 L281.0,371.9 L281.5,371.9 L282.0,371.9 L282.5,371.9 L283.0,371.9 L283.5,371.9 L284.0,371.9 L284.5,371.9 L285.0,372.0 L285.5,372.0 L286.0,372.0 L286.5,372.0 L287.0,372.0 L287.5,372.0 L288.0,372.0 L288.5,372.0 L289.0,372.0 L289.5,372.0 L290.0,372.0 L290.5,372.0 L291.0,372.1 L291.5,372.1 L292.0,372.1 L292.5,372.1 L293.0,372.1 L293.5,372.1 L294.0,372.1 L294.5,372.1 L295.0,372.1 L295.5,372.1 L296.0,372.1 L296.5,372.1 L297.0,372.2 L297.5,372.2 L298.0,372.2 L298.5,372.2 L299.0,372.2 L299.5,372.2 L300.0,372.2 L300.5,372.2 L301.0,372.2 L301.5,372.2 L302.0,372.2 L302.5,372.2 L303.0,372.3 L303.5,372.3 L304.0,372.3 L304.5,372.3 L305.0,372.3 L305.5,372.3 L306.0,372.3 L306.5,372.3 L307.0,372.3 L307.5,372.3 L308.0,372.3 L308.5,372.3 L309.0,372.3 L309.5,372.4 L310.0,372.4 L310.5,372.4 L311.0,372.4 L311.5,372.4 L312.0,372.4 L312.5,372.4 L313.0,372.4 L313.5,372.4 L314.0,372.4 L314.5,372.4 L315.0,372.4 L315.5,372.5 L316.0,372.5 L316.5,372.5 L317.0,372.5 L317.5,372.5 L318.0,372.5 L318.5,372.5 L319.0,372.5 L319.5,372.5 L320.0,372.5 L320.5,372.5 L321.0,372.5 L321.5,372.5 L322.0,372.5 L322.5,372.5 L323.0,372.6 L323.5,372.6 L324.0,372.6 L324.5,372.6 L325.0,372.6 L325.5,372.6 L326.0,372.6 L326.5,372.6 L327.0,372.6 L327.5,372.6 L328.0,372.6 L328.5,372.6 L329.0,372.6 L329.5,372.6 L330.0,372.6 L330.5,372.6 L331.0,372.6 L331.5,372.6 L332.0,372.6 L332.5,372.7 L333.0,372.7 L333.5,372.7 L334.0,372.7 L334.5,372.7 L335.0,372.7 L335.5,372.7 L336.0,372.7 L336.5,372.7 L337.0,372.7 L337.5,372.7 L338.0,372.7 L338.5,372.7 L339.0,372.7 L339.5,372.7 L340.0,372.7 L340.5,372.7 L341.0,372.7 L341.5,372.7 L342.0,372.7 L342.5,372.7 L343.0,372.7 L343.5,372.7 L344.0,372.7 L344.5,372.7 L345.0,372.7 L345.5,372.7 L346.0,372.7 L346.5,372.7 L347.0,372.7 L347.5,372.7 L348.0,372.7 L348.5,372.7 L349.0,372.7 L349.5,372.7 L350.0,372.7 L350.5,372.7 L351.0,372.7 L351.5,372.7 L352.0,372.7 L352.5,372.7 L353.0,372.7 L353.5,372.7 L354.0,372.7 L354.5,372.7 L355.0,372.7 L355.5,372.7 L356.0,372.7 L356.5,372.7 L357.0,372.7 L357.5,372.7 L358.0,372.7 L358.5,372.7 L359.0,372.7 L359.5,372.7 L360.0,372.7 L360.5,372.7 L361.0,372.7 L361.5,372.7 L362.0,372.7 L362.5,372.7 L363.0,372.7 L363.5,372.7 L364.0,372.7 L364.5,372.7 L365.0,372.7 L365.5,372.7 L366.0,372.7 L366.5,372.7 L367.0,372.7 L367.5,372.7 L368.0,372.7 L368.5,372.7 L369.0,372.7 L369.5,372.7 L370.0,372.7 L370.5,372.7 L371.0,372.7 L371.5,372.7 L372.0,372.7 L372.5,372.7 L373.0,372.7 L373.5,372.7 L374.0,372.6 L374.5,372.6 L375.0,372.6 L375.5,372.6 L376.0,372.6 L376.5,372.6 L377.0,372.6 L377.5,372.6 L378.0,372.6 L378.5,372.6 L379.0,372.5 L379.5,372.5 L380.0,372.5 L380.5,372.5 L381.0,372.5 L381.5,372.5 L382.0,372.5 L382.5,372.4 L383.0,372.4 L383.5,372.4 L384.0,372.4 L384.5,372.3 L385.0,372.3 L385.5,372.3 L386.0,372.3 L386.5,372.2 L387.0,372.2 L387.5,372.2 L388.0,372.1 L388.5,372.1 L389.0,372.1 L389.5,372.0 L390.0,372.0 L390.5,372.0 L391.0,371.9 L391.5,371.9 L392.0,371.8 L392.5,371.8 L393.0,371.7 L393.5,371.7 L394.0,371.7 L394.5,371.6 L395.0,371.6 L395.5,371.5 L396.0,371.5 L396.5,371.5 L397.0,371.4 L397.5,371.4 L398.0,371.4 L398.5,371.4 L399.0,371.4 L399.5,371.3 L400.0,371.3 L400.5,371.4 L401.0,371.4 L401.5,371.4 L402.0,371.4 L402.5,371.5 L403.0,371.5 L403.5,371.5 L404.0,371.6 L404.5,371.6 L405.0,371.7 L405.5,371.7 L406.0,371.8 L406.5,371.8 L407.0,371.9 L407.5,371.9 L408.0,372.0 L408.5,372.1 L409.0,372.1 L409.5,372.2 L410.0,372.2 L410.5,372.3 L411.0,372.3 L411.5,372.4 L412.0,372.4 L412.5,372.5 L413.0,372.5 L413.5,372.6 L414.0,372.6 L414.5,372.7 L415.0,372.7 L415.5,372.8 L416.0,372.8 L416.5,372.9 L417.0,372.9 L417.5,373.0 L418.0,373.0 L418.5,373.1 L419.0,373.1 L419.5,373.2 L420.0,373.2 L420.5,373.2 L421.0,373.3 L421.5,373.3 L422.0,373.3 L422.5,373.4 L423.0,373.4 L423.5,373.4 L424.0,373.4 L424.5,373.4 L425.0,373.4 L425.5,373.4 L426.0,373.4 L426.5,373.5 L427.0,373.5 L427.5,373.5 L428.0,373.5 L428.5,373.5 L429.0,373.5 L429.5,373.5 L430.0,373.5 L430.5,373.5 L431.0,373.5 L431.5,373.5 L432.0,373.5 L432.5,373.5 L433.0,373.5 L433.5,373.5 L434.0,373.5 L434.5,373.5 L435.0,373.5 L435.5,373.5 L436.0,373.5 L436.5,373.5 L437.0,373.5 L437.5,373.5 L438.0,373.5 L438.5,373.5 L439.0,373.5 L439.5,373.5 L440.0,373.5 L440.5,373.5 L441.0,373.5 L441.5,373.5 L442.0,373.5 L442.5,373.5 L443.0,373.5 L443.5,373.5 L444.0,373.5 L444.5,373.5 L445.0,373.5 L445.5,373.5 L446.0,373.5 L446.5,373.5 L447.0,373.5 L447.5,373.5 L448.0,373.5 L448.5,373.5 L449.0,373.5 L449.5,373.5 L450.0,373.5 L450.5,373.5 L451.0,373.5 L451.5,373.6 L452.0,373.6 L452.5,373.6 L453.0,373.6 L453.5,373.6 L454.0,373.6 L454.5,373.6 L455.0,373.6 L455.5,373.6 L456.0,373.6 L456.5,373.6 L457.0,373.6 L457.5,373.6 L458.0,373.6 L458.5,373.6 L459.0,373.6 L459.5,373.6 L460.0,373.6 L460.5,373.6 L461.0,373.6 L461.5,373.6 L462.0,373.6 L462.5,373.6 L463.0,373.6 L463.5,373.6 L464.0,373.6 L464.5,373.7 L465.0,373.7 L465.5,373.7 L466.0,373.7 L466.5,373.7 L467.0,373.7 L467.5,373.7 L468.0,373.7 L468.5,373.7 L469.0,373.7 L469.5,373.7 L470.0,373.7 L470.5,373.7 L471.0,373.7 L471.5,373.7 L472.0,373.7 L472.5,373.7 L473.0,373.7 L473.5,373.7 L474.0,373.7 L474.5,373.7 L475.0,373.7 L475.5,373.7 L476.0,373.7 L476.5,373.7 L477.0,373.7 L477.5,373.7 L478.0,373.7 L478.5,373.7 L479.0,373.7 L479.5,373.7 L480.0,373.7 L480.5,373.7 L481.0,373.7 L481.5,373.7 L482.0,373.7 L482.5,373.6 L483.0,373.6 L483.5,373.6 L484.0,373.6 L484.5,373.6 L485.0,373.6 L485.5,373.6 L486.0,373.6 L486.5,373.6 L487.0,373.6 L487.5,373.5 L488.0,373.5 L488.5,373.5 L489.0,373.5 L489.5,373.5 L490.0,373.5 L490.5,373.4 L491.0,373.4 L491.5,373.4 L492.0,373.4 L492.5,373.4 L493.0,373.3 L493.5,373.3 L494.0,373.3 L494.5,373.3 L495.0,373.2 L495.5,373.2 L496.0,373.2 L496.5,373.1 L497.0,373.1 L497.5,373.1 L498.0,373.0 L498.5,373.0 L499.0,373.0 L499.5,372.9 L500.0,372.9 L500.5,372.8 L501.0,372.8 L501.5,372.7 L502.0,372.7 L502.5,372.6 L503.0,372.5 L503.5,372.4 L504.0,372.4 L504.5,372.3 L505.0,372.2 L505.5,372.0 L506.0,371.9 L506.5,371.8 L507.0,371.7 L507.5,371.5 L508.0,371.3 L508.5,371.2 L509.0,371.0 L509.5,370.8 L510.0,370.5 L510.5,370.3 L511.0,370.0 L511.5,369.7 L512.0,369.3 L512.5,368.9 L513.0,368.5 L513.5,368.0 L514.0,367.5 L514.5,366.8 L515.0,366.1 L515.5,365.3 L516.0,364.3 L516.5,363.3 L517.0,362.0 L517.5,360.6 L518.0,359.1 L518.5,357.5 L519.0,355.9 L519.5,354.4 L520.0,353.1 L520.5,352.3 L521.0,352.1 L521.5,352.4 L522.0,353.2 L522.5,354.4 L523.0,356.0 L523.5,357.7 L524.0,359.3 L524.5,360.9 L525.0,362.2 L525.5,363.4 L526.0,364.3 L526.5,365.2 L527.0,365.9 L527.5,366.5 L528.0,367.0 L528.5,367.4 L529.0,367.7 L529.5,368.0 L530.0,368.3 L530.5,368.5 L531.0,368.7 L531.5,368.9 L532.0,369.0 L532.5,369.2 L533.0,369.3 L533.5,369.4 L534.0,369.4 L534.5,369.5 L535.0,369.6 L535.5,369.6 L536.0,369.7 L536.5,369.7 L537.0,369.8 L537.5,369.8 L538.0,369.8 L538.5,369.9 L539.0,369.9 L539.5,369.9 L540.0,369.9 L540.5,369.9 L541.0,369.9 L541.5,370.0 L542.0,370.0 L542.5,370.0 L543.0,370.0 L543.5,370.0 L544.0,370.0 L544.5,370.0 L545.0,370.0 L545.5,370.0 L546.0,370.0 L546.5,370.0 L547.0,370.0 L547.5,370.0 L548.0,370.0 L548.5,370.1 L549.0,370.1 L549.5,370.1 L550.0,370.1 L550.5,370.1 L551.0,370.1 L551.5,370.1 L552.0,370.1 L552.5,370.1 L553.0,370.2 L553.5,370.2 L554.0,370.3 L554.5,370.3 L555.0,370.4 L555.5,370.4 L556.0,370.5 L556.5,370.6 L557.0,370.6 L557.5,370.7 L558.0,370.8 L558.5,370.9 L559.0,370.9 L559.5,371.0 L560.0,371.1 L560.5,371.1 L561.0,371.2 L561.5,371.2 L562.0,371.3 L562.5,371.4 L563.0,371.4 L563.5,371.5 L564.0,371.6 L564.5,371.6 L565.0,371.7 L565.5,371.8 L566.0,371.8 L566.5,371.9 L567.0,372.0 L567.5,372.0 L568.0,372.1 L568.5,372.2 L569.0,372.2 L569.5,372.3 L570.0,372.3 L570.5,372.4 L571.0,372.5 L571.5,372.5 L572.0,372.6 L572.5,372.6 L573.0,372.7 L573.5,372.7 L574.0,372.8 L574.5,372.9 L575.0,372.9 L575.5,373.0 L576.0,373.0 L576.5,373.1 L577.0,373.1 L577.5,373.2 L578.0,373.2 L578.5,373.3 L579.0,373.3 L579.5,373.4 L580.0,373.4 L580.5,373.5 L581.0,373.5 L581.5,373.6 L582.0,373.6 L582.5,373.7 L583.0,373.8 L583.5,373.8 L584.0,373.9 L584.5,373.9 L585.0,374.0 L585.5,374.1 L586.0,374.1 L586.5,374.2 L587.0,374.2 L587.5,374.3 L588.0,374.3 L588.5,374.4 L589.0,374.5 L589.5,374.5 L590.0,374.6 L590.5,374.6 L591.0,374.7 L591.5,374.8 L592.0,374.8 L592.5,374.9 L593.0,375.0 L593.5,375.0 L594.0,375.1 L594.5,375.1 L595.0,375.2 L595.5,375.3 L596.0,375.3 L596.5,375.4" stroke="#d03a44" stroke-width="1.5" fill="none" stroke-dasharray="5 3.8"/>
<path d="M142.0,370.3 L142.5,370.3 L143.0,370.3 L143.5,370.3 L144.0,370.3 L144.5,370.2 L145.0,370.2 L145.5,370.2 L146.0,370.2 L146.5,370.2 L147.0,370.2 L147.5,370.2 L148.0,370.2 L148.5,370.1 L149.0,370.1 L149.5,370.1 L150.0,370.1 L150.5,370.1 L151.0,370.1 L151.5,370.0 L152.0,370.0 L152.5,370.0 L153.0,370.0 L153.5,369.9 L154.0,369.9 L154.5,369.9 L155.0,369.9 L155.5,369.8 L156.0,369.8 L156.5,369.8 L157.0,369.7 L157.5,369.7 L158.0,369.6 L158.5,369.6 L159.0,369.5 L159.5,369.5 L160.0,369.4 L160.5,369.4 L161.0,369.3 L161.5,369.2 L162.0,369.2 L162.5,369.1 L163.0,369.0 L163.5,368.9 L164.0,368.8 L164.5,368.6 L165.0,368.5 L165.5,368.3 L166.0,368.2 L166.5,368.0 L167.0,367.8 L167.5,367.6 L168.0,367.3 L168.5,367.0 L169.0,366.7 L169.5,366.4 L170.0,365.9 L170.5,365.5 L171.0,365.0 L171.5,364.4 L172.0,363.7 L172.5,362.9 L173.0,362.0 L173.5,361.1 L174.0,360.0 L174.5,358.8 L175.0,357.5 L175.5,356.1 L176.0,354.7 L176.5,353.4 L177.0,352.3 L177.5,351.5 L178.0,351.1 L178.5,351.1 L179.0,351.5 L179.5,352.3 L180.0,353.6 L180.5,355.2 L181.0,356.9 L181.5,358.7 L182.0,360.3 L182.5,361.7 L183.0,363.0 L183.5,364.1 L184.0,365.0 L184.5,365.7 L185.0,366.4 L185.5,366.9 L186.0,367.4 L186.5,367.8 L187.0,368.1 L187.5,368.4 L188.0,368.6 L188.5,368.8 L189.0,369.0 L189.5,369.2 L190.0,369.3 L190.5,369.4 L191.0,369.5 L191.5,369.6 L192.0,369.7 L192.5,369.8 L193.0,369.9 L193.5,369.9 L194.0,370.0 L194.5,370.0 L195.0,370.1 L195.5,370.1 L196.0,370.2 L196.5,370.2 L197.0,370.2 L197.5,370.2 L198.0,370.3 L198.5,370.3 L199.0,370.3 L199.5,370.3 L200.0,370.4 L200.5,370.4 L201.0,370.4 L201.5,370.4 L202.0,370.4 L202.5,370.5 L203.0,370.5 L203.5,370.5 L204.0,370.5 L204.5,370.5 L205.0,370.5 L205.5,370.6 L206.0,370.6 L206.5,370.6 L207.0,370.6 L207.5,370.6 L208.0,370.7 L208.5,370.7 L209.0,370.7 L209.5,370.7 L210.0,370.7 L210.5,370.7 L211.0,370.8 L211.5,370.8 L212.0,370.8 L212.5,370.8 L213.0,370.8 L213.5,370.9 L214.0,370.9 L214.5,370.9 L215.0,370.9 L215.5,370.9 L216.0,370.9 L216.5,371.0 L217.0,371.0 L217.5,371.0 L218.0,371.0 L218.5,371.0 L219.0,371.0 L219.5,371.0 L220.0,371.1 L220.5,371.1 L221.0,371.1 L221.5,371.1 L222.0,371.1 L222.5,371.1 L223.0,371.1 L223.5,371.1 L224.0,371.2 L224.5,371.2 L225.0,371.2 L225.5,371.2 L226.0,371.2 L226.5,371.2 L227.0,371.2 L227.5,371.2 L228.0,371.2 L228.5,371.2 L229.0,371.2 L229.5,371.2 L230.0,371.2 L230.5,371.2 L231.0,371.2 L231.5,371.2 L232.0,371.2 L232.5,371.2 L233.0,371.2 L233.5,371.2 L234.0,371.2 L234.5,371.2 L235.0,371.2 L235.5,371.2 L236.0,371.2 L236.5,371.2 L237.0,371.1 L237.5,371.1 L238.0,371.1 L238.5,371.1 L239.0,371.1 L239.5,371.1 L240.0,371.0 L240.5,371.0 L241.0,371.0 L241.5,371.0 L242.0,370.9 L242.5,370.9 L243.0,370.8 L243.5,370.7 L244.0,370.6 L244.5,370.5 L245.0,370.4 L245.5,370.3 L246.0,370.2 L246.5,370.1 L247.0,370.1 L247.5,370.1 L248.0,370.1 L248.5,370.2 L249.0,370.3 L249.5,370.4 L250.0,370.5 L250.5,370.6 L251.0,370.7 L251.5,370.8 L252.0,370.9 L252.5,370.9 L253.0,371.0 L253.5,371.0 L254.0,371.1 L254.5,371.1 L255.0,371.1 L255.5,371.2 L256.0,371.2 L256.5,371.2 L257.0,371.3 L257.5,371.3 L258.0,371.3 L258.5,371.4 L259.0,371.4 L259.5,371.4 L260.0,371.4 L260.5,371.5 L261.0,371.5 L261.5,371.5 L262.0,371.6 L262.5,371.6 L263.0,371.6 L263.5,371.6 L264.0,371.7 L264.5,371.7 L265.0,371.7 L265.5,371.7 L266.0,371.8 L266.5,371.8 L267.0,371.8 L267.5,371.8 L268.0,371.9 L268.5,371.9 L269.0,371.9 L269.5,371.9 L270.0,371.9 L270.5,372.0 L271.0,372.0 L271.5,372.0 L272.0,372.0 L272.5,372.0 L273.0,372.0 L273.5,372.1 L274.0,372.1 L274.5,372.1 L275.0,372.1 L275.5,372.1 L276.0,372.1 L276.5,372.1 L277.0,372.1 L277.5,372.1 L278.0,372.2 L278.5,372.2 L279.0,372.2 L279.5,372.2 L280.0,372.2 L280.5,372.2 L281.0,372.2 L281.5,372.2 L282.0,372.2 L282.5,372.2 L283.0,372.3 L283.5,372.3 L284.0,372.3 L284.5,372.3 L285.0,372.3 L285.5,372.3 L286.0,372.3 L286.5,372.3 L287.0,372.3 L287.5,372.3 L288.0,372.3 L288.5,372.3 L289.0,372.4 L289.5,372.4 L290.0,372.4 L290.5,372.4 L291.0,372.4 L291.5,372.4 L292.0,372.4 L292.5,372.4 L293.0,372.4 L293.5,372.4 L294.0,372.4 L294.5,372.4 L295.0,372.5 L295.5,372.5 L296.0,372.5 L296.5,372.5 L297.0,372.5 L297.5,372.5 L298.0,372.5 L298.5,372.5 L299.0,372.5 L299.5,372.5 L300.0,372.5 L300.5,372.5 L301.0,372.6 L301.5,372.6 L302.0,372.6 L302.5,372.6 L303.0,372.6 L303.5,372.6 L304.0,372.6 L304.5,372.6 L305.0,372.6 L305.5,372.6 L306.0,372.6 L306.5,372.6 L307.0,372.7 L307.5,372.7 L308.0,372.7 L308.5,372.7 L309.0,372.7 L309.5,372.7 L310.0,372.7 L310.5,372.7 L311.0,372.7 L311.5,372.7 L312.0,372.7 L312.5,372.7 L313.0,372.8 L313.5,372.8 L314.0,372.8 L314.5,372.8 L315.0,372.8 L315.5,372.8 L316.0,372.8 L316.5,372.8 L317.0,372.8 L317.5,372.8 L318.0,372.8 L318.5,372.8 L319.0,372.8 L319.5,372.9 L320.0,372.9 L320.5,372.9 L321.0,372.9 L321.5,372.9 L322.0,372.9 L322.5,372.9 L323.0,372.9 L323.5,372.9 L324.0,372.9 L324.5,372.9 L325.0,372.9 L325.5,372.9 L326.0,372.9 L326.5,372.9 L327.0,373.0 L327.5,373.0 L328.0,373.0 L328.5,373.0 L329.0,373.0 L329.5,373.0 L330.0,373.0 L330.5,373.0 L331.0,373.0 L331.5,373.0 L332.0,373.0 L332.5,373.0 L333.0,373.0 L333.5,373.0 L334.0,373.0 L334.5,373.0 L335.0,373.0 L335.5,373.0 L336.0,373.0 L336.5,373.1 L337.0,373.1 L337.5,373.1 L338.0,373.1 L338.5,373.1 L339.0,373.1 L339.5,373.1 L340.0,373.1 L340.5,373.1 L341.0,373.1 L341.5,373.1 L342.0,373.1 L342.5,373.1 L343.0,373.1 L343.5,373.1 L344.0,373.1 L344.5,373.1 L345.0,373.1 L345.5,373.1 L346.0,373.1 L346.5,373.1 L347.0,373.1 L347.5,373.1 L348.0,373.1 L348.5,373.1 L349.0,373.1 L349.5,373.1 L350.0,373.1 L350.5,373.1 L351.0,373.2 L351.5,373.2 L352.0,373.2 L352.5,373.2 L353.0,373.2 L353.5,373.2 L354.0,373.2 L354.5,373.2 L355.0,373.2 L355.5,373.2 L356.0,373.2 L356.5,373.2 L357.0,373.2 L357.5,373.2 L358.0,373.2 L358.5,373.2 L359.0,373.2 L359.5,373.2 L360.0,373.2 L360.5,373.2 L361.0,373.2 L361.5,373.2 L362.0,373.2 L362.5,373.2 L363.0,373.2 L363.5,373.2 L364.0,373.2 L364.5,373.2 L365.0,373.2 L365.5,373.2 L366.0,373.2 L366.5,373.2 L367.0,373.2 L367.5,373.2 L368.0,373.2 L368.5,373.2 L369.0,373.2 L369.5,373.2 L370.0,373.2 L370.5,373.2 L371.0,373.3 L371.5,373.3 L372.0,373.3 L372.5,373.3 L373.0,373.3 L373.5,373.3 L374.0,373.3 L374.5,373.3 L375.0,373.3 L375.5,373.3 L376.0,373.3 L376.5,373.3 L377.0,373.3 L377.5,373.3 L378.0,373.3 L378.5,373.3 L379.0,373.3 L379.5,373.3 L380.0,373.3 L380.5,373.3 L381.0,373.3 L381.5,373.3 L382.0,373.3 L382.5,373.3 L383.0,373.3 L383.5,373.3 L384.0,373.3 L384.5,373.3 L385.0,373.3 L385.5,373.3 L386.0,373.3 L386.5,373.3 L387.0,373.3 L387.5,373.3 L388.0,373.4 L388.5,373.4 L389.0,373.4 L389.5,373.4 L390.0,373.4 L390.5,373.4 L391.0,373.4 L391.5,373.4 L392.0,373.4 L392.5,373.4 L393.0,373.4 L393.5,373.4 L394.0,373.4 L394.5,373.4 L395.0,373.4 L395.5,373.4 L396.0,373.4 L396.5,373.4 L397.0,373.4 L397.5,373.4 L398.0,373.4 L398.5,373.4 L399.0,373.4 L399.5,373.5 L400.0,373.5 L400.5,373.5 L401.0,373.5 L401.5,373.5 L402.0,373.5 L402.5,373.5 L403.0,373.5 L403.5,373.5 L404.0,373.5 L404.5,373.5 L405.0,373.5 L405.5,373.5 L406.0,373.5 L406.5,373.5 L407.0,373.5 L407.5,373.5 L408.0,373.6 L408.5,373.6 L409.0,373.6 L409.5,373.6 L410.0,373.6 L410.5,373.6 L411.0,373.6 L411.5,373.6 L412.0,373.6 L412.5,373.6 L413.0,373.7 L413.5,373.7 L414.0,373.7 L414.5,373.7 L415.0,373.8 L415.5,373.8 L416.0,373.8 L416.5,373.8 L417.0,373.9 L417.5,373.9 L418.0,373.9 L418.5,373.9 L419.0,374.0 L419.5,374.0 L420.0,374.0 L420.5,374.0 L421.0,374.0 L421.5,374.0 L422.0,374.1 L422.5,374.1 L423.0,374.1 L423.5,374.1 L424.0,374.1 L424.5,374.1 L425.0,374.1 L425.5,374.1 L426.0,374.1 L426.5,374.1 L427.0,374.1 L427.5,374.1 L428.0,374.1 L428.5,374.1 L429.0,374.1 L429.5,374.1 L430.0,374.1 L430.5,374.1 L431.0,374.1 L431.5,374.0 L432.0,374.0 L432.5,374.0 L433.0,374.0 L433.5,374.0 L434.0,374.0 L434.5,374.0 L435.0,374.0 L435.5,374.0 L436.0,374.0 L436.5,374.0 L437.0,374.0 L437.5,374.0 L438.0,374.0 L438.5,374.0 L439.0,374.0 L439.5,374.0 L440.0,374.0 L440.5,374.0 L441.0,374.0 L441.5,374.0 L442.0,374.0 L442.5,374.0 L443.0,374.0 L443.5,374.0 L444.0,374.0 L444.5,374.0 L445.0,374.0 L445.5,374.0 L446.0,374.0 L446.5,374.0 L447.0,374.0 L447.5,374.0 L448.0,374.0 L448.5,374.0 L449.0,374.0 L449.5,374.0 L450.0,374.0 L450.5,374.0 L451.0,374.0 L451.5,374.0 L452.0,374.0 L452.5,374.0 L453.0,374.0 L453.5,374.0 L454.0,374.0 L454.5,374.0 L455.0,374.0 L455.5,374.0 L456.0,374.0 L456.5,374.0 L457.0,374.0 L457.5,374.0 L458.0,374.0 L458.5,374.0 L459.0,374.0 L459.5,374.0 L460.0,374.0 L460.5,374.0 L461.0,374.0 L461.5,374.0 L462.0,374.0 L462.5,374.0 L463.0,374.0 L463.5,374.0 L464.0,374.0 L464.5,374.0 L465.0,374.0 L465.5,374.1 L466.0,374.1 L466.5,374.1 L467.0,374.1 L467.5,374.1 L468.0,374.1 L468.5,374.1 L469.0,374.1 L469.5,374.1 L470.0,374.1 L470.5,374.1 L471.0,374.1 L471.5,374.1 L472.0,374.1 L472.5,374.1 L473.0,374.1 L473.5,374.1 L474.0,374.1 L474.5,374.1 L475.0,374.1 L475.5,374.1 L476.0,374.1 L476.5,374.1 L477.0,374.1 L477.5,374.1 L478.0,374.1 L478.5,374.1 L479.0,374.1 L479.5,374.1 L480.0,374.1 L480.5,374.1 L481.0,374.1 L481.5,374.1 L482.0,374.1 L482.5,374.1 L483.0,374.1 L483.5,374.0 L484.0,374.0 L484.5,374.0 L485.0,374.0 L485.5,374.0 L486.0,374.0 L486.5,374.0 L487.0,374.0 L487.5,374.0 L488.0,374.0 L488.5,374.0 L489.0,373.9 L489.5,373.9 L490.0,373.9 L490.5,373.9 L491.0,373.9 L491.5,373.9 L492.0,373.8 L492.5,373.8 L493.0,373.8 L493.5,373.8 L494.0,373.8 L494.5,373.8 L495.0,373.7 L495.5,373.7 L496.0,373.7 L496.5,373.7 L497.0,373.6 L497.5,373.6 L498.0,373.6 L498.5,373.6 L499.0,373.5 L499.5,373.5 L500.0,373.5 L500.5,373.4 L501.0,373.4 L501.5,373.4 L502.0,373.3 L502.5,373.3 L503.0,373.2 L503.5,373.1 L504.0,373.1 L504.5,373.0 L505.0,372.9 L505.5,372.8 L506.0,372.7 L506.5,372.7 L507.0,372.6 L507.5,372.4 L508.0,372.3 L508.5,372.2 L509.0,372.1 L509.5,371.9 L510.0,371.8 L510.5,371.6 L511.0,371.4 L511.5,371.2 L512.0,371.0 L512.5,370.7 L513.0,370.4 L513.5,370.1 L514.0,369.8 L514.5,369.4 L515.0,369.0 L515.5,368.5 L516.0,367.9 L516.5,367.2 L517.0,366.5 L517.5,365.7 L518.0,364.7 L518.5,363.7 L519.0,362.7 L519.5,361.6 L520.0,360.6 L520.5,359.9 L521.0,359.4 L521.5,359.3 L522.0,359.5 L522.5,360.1 L523.0,360.9 L523.5,362.0 L524.0,363.0 L524.5,364.1 L525.0,365.0 L525.5,365.8 L526.0,366.5 L526.5,367.1 L527.0,367.6 L527.5,368.1 L528.0,368.4 L528.5,368.7 L529.0,369.0 L529.5,369.2 L530.0,369.4 L530.5,369.5 L531.0,369.7 L531.5,369.8 L532.0,369.9 L532.5,369.9 L533.0,370.0 L533.5,370.1 L534.0,370.1 L534.5,370.2 L535.0,370.2 L535.5,370.3 L536.0,370.3 L536.5,370.3 L537.0,370.3 L537.5,370.3 L538.0,370.4 L538.5,370.4 L539.0,370.4 L539.5,370.4 L540.0,370.4 L540.5,370.4 L541.0,370.4 L541.5,370.4 L542.0,370.4 L542.5,370.4 L543.0,370.4 L543.5,370.4 L544.0,370.4 L544.5,370.4 L545.0,370.4 L545.5,370.4 L546.0,370.4 L546.5,370.4 L547.0,370.4 L547.5,370.4 L548.0,370.4 L548.5,370.4 L549.0,370.4 L549.5,370.5 L550.0,370.5 L550.5,370.5 L551.0,370.5 L551.5,370.5 L552.0,370.5 L552.5,370.5 L553.0,370.6 L553.5,370.6 L554.0,370.6 L554.5,370.7 L555.0,370.7 L555.5,370.8 L556.0,370.9 L556.5,370.9 L557.0,371.0 L557.5,371.1 L558.0,371.1 L558.5,371.2 L559.0,371.3 L559.5,371.3 L560.0,371.4 L560.5,371.5 L561.0,371.5 L561.5,371.6 L562.0,371.6 L562.5,371.7 L563.0,371.8 L563.5,371.8 L564.0,371.9 L564.5,372.0 L565.0,372.0 L565.5,372.1 L566.0,372.2 L566.5,372.2 L567.0,372.3 L567.5,372.4 L568.0,372.4 L568.5,372.5 L569.0,372.6 L569.5,372.6 L570.0,372.7 L570.5,372.7 L571.0,372.8 L571.5,372.9 L572.0,372.9 L572.5,373.0 L573.0,373.0 L573.5,373.1 L574.0,373.1 L574.5,373.2 L575.0,373.2 L575.5,373.3 L576.0,373.3 L576.5,373.4 L577.0,373.4 L577.5,373.5 L578.0,373.5 L578.5,373.6 L579.0,373.6 L579.5,373.7 L580.0,373.8 L580.5,373.8 L581.0,373.9 L581.5,373.9 L582.0,374.0 L582.5,374.0 L583.0,374.1 L583.5,374.1 L584.0,374.2 L584.5,374.3 L585.0,374.3 L585.5,374.4 L586.0,374.4 L586.5,374.5 L587.0,374.5 L587.5,374.6 L588.0,374.7 L588.5,374.7 L589.0,374.8 L589.5,374.8 L590.0,374.9 L590.5,375.0 L591.0,375.0 L591.5,375.1 L592.0,375.2 L592.5,375.2 L593.0,375.3 L593.5,375.3 L594.0,375.4 L594.5,375.5 L595.0,375.5 L595.5,375.6 L596.0,375.7 L596.5,375.7" stroke="#3434c0" stroke-width="1.5" fill="none" stroke-dasharray="5 3.8"/>
<path d="M142.0,370.9 L142.5,370.9 L143.0,370.9 L143.5,370.9 L144.0,370.9 L144.5,370.8 L145.0,370.8 L145.5,370.8 L146.0,370.8 L146.5,370.8 L147.0,370.8 L147.5,370.8 L148.0,370.8 L148.5,370.8 L149.0,370.8 L149.5,370.8 L150.0,370.8 L150.5,370.8 L151.0,370.8 L151.5,370.8 L152.0,370.8 L152.5,370.7 L153.0,370.7 L153.5,370.7 L154.0,370.7 L154.5,370.7 L155.0,370.7 L155.5,370.7 L156.0,370.7 L156.5,370.7 L157.0,370.6 L157.5,370.6 L158.0,370.6 L158.5,370.6 L159.0,370.6 L159.5,370.5 L160.0,370.5 L160.5,370.5 L161.0,370.5 L161.5,370.4 L162.0,370.4 L162.5,370.4 L163.0,370.3 L163.5,370.3 L164.0,370.2 L164.5,370.2 L165.0,370.1 L165.5,370.0 L166.0,370.0 L166.5,369.9 L167.0,369.8 L167.5,369.7 L168.0,369.6 L168.5,369.4 L169.0,369.3 L169.5,369.1 L170.0,368.9 L170.5,368.7 L171.0,368.5 L171.5,368.2 L172.0,367.8 L172.5,367.4 L173.0,367.0 L173.5,366.5 L174.0,365.9 L174.5,365.3 L175.0,364.6 L175.5,363.8 L176.0,363.1 L176.5,362.5 L177.0,361.9 L177.5,361.6 L178.0,361.5 L178.5,361.7 L179.0,362.1 L179.5,362.8 L180.0,363.7 L180.5,364.6 L181.0,365.5 L181.5,366.3 L182.0,367.0 L182.5,367.6 L183.0,368.1 L183.5,368.6 L184.0,368.9 L184.5,369.2 L185.0,369.4 L185.5,369.7 L186.0,369.8 L186.5,370.0 L187.0,370.1 L187.5,370.2 L188.0,370.3 L188.5,370.4 L189.0,370.5 L189.5,370.5 L190.0,370.6 L190.5,370.6 L191.0,370.7 L191.5,370.7 L192.0,370.7 L192.5,370.8 L193.0,370.8 L193.5,370.8 L194.0,370.9 L194.5,370.9 L195.0,370.9 L195.5,370.9 L196.0,370.9 L196.5,371.0 L197.0,371.0 L197.5,371.0 L198.0,371.0 L198.5,371.0 L199.0,371.0 L199.5,371.0 L200.0,371.0 L200.5,371.1 L201.0,371.1 L201.5,371.1 L202.0,371.1 L202.5,371.1 L203.0,371.1 L203.5,371.1 L204.0,371.1 L204.5,371.2 L205.0,371.2 L205.5,371.2 L206.0,371.2 L206.5,371.2 L207.0,371.2 L207.5,371.2 L208.0,371.3 L208.5,371.3 L209.0,371.3 L209.5,371.3 L210.0,371.3 L210.5,371.3 L211.0,371.3 L211.5,371.4 L212.0,371.4 L212.5,371.4 L213.0,371.4 L213.5,371.4 L214.0,371.4 L214.5,371.5 L215.0,371.5 L215.5,371.5 L216.0,371.5 L216.5,371.5 L217.0,371.5 L217.5,371.5 L218.0,371.6 L218.5,371.6 L219.0,371.6 L219.5,371.6 L220.0,371.6 L220.5,371.6 L221.0,371.6 L221.5,371.6 L222.0,371.7 L222.5,371.7 L223.0,371.7 L223.5,371.7 L224.0,371.7 L224.5,371.7 L225.0,371.7 L225.5,371.7 L226.0,371.7 L226.5,371.7 L227.0,371.7 L227.5,371.7 L228.0,371.7 L228.5,371.7 L229.0,371.8 L229.5,371.8 L230.0,371.8 L230.5,371.7 L231.0,371.7 L231.5,371.7 L232.0,371.7 L232.5,371.7 L233.0,371.7 L233.5,371.7 L234.0,371.7 L234.5,371.7 L235.0,371.7 L235.5,371.7 L236.0,371.7 L236.5,371.7 L237.0,371.7 L237.5,371.7 L238.0,371.7 L238.5,371.7 L239.0,371.7 L239.5,371.7 L240.0,371.7 L240.5,371.6 L241.0,371.6 L241.5,371.6 L242.0,371.6 L242.5,371.6 L243.0,371.5 L243.5,371.5 L244.0,371.4 L244.5,371.4 L245.0,371.3 L245.5,371.2 L246.0,371.1 L246.5,371.0 L247.0,371.0 L247.5,371.0 L248.0,371.0 L248.5,371.1 L249.0,371.2 L249.5,371.3 L250.0,371.3 L250.5,371.4 L251.0,371.5 L251.5,371.5 L252.0,371.6 L252.5,371.6 L253.0,371.6 L253.5,371.7 L254.0,371.7 L254.5,371.7 L255.0,371.7 L255.5,371.8 L256.0,371.8 L256.5,371.8 L257.0,371.8 L257.5,371.9 L258.0,371.9 L258.5,371.9 L259.0,371.9 L259.5,372.0 L260.0,372.0 L260.5,372.0 L261.0,372.0 L261.5,372.1 L262.0,372.1 L262.5,372.1 L263.0,372.1 L263.5,372.2 L264.0,372.2 L264.5,372.2 L265.0,372.2 L265.5,372.3 L266.0,372.3 L266.5,372.3 L267.0,372.3 L267.5,372.3 L268.0,372.4 L268.5,372.4 L269.0,372.4 L269.5,372.4 L270.0,372.4 L270.5,372.5 L271.0,372.5 L271.5,372.5 L272.0,372.5 L272.5,372.5 L273.0,372.5 L273.5,372.6 L274.0,372.6 L274.5,372.6 L275.0,372.6 L275.5,372.6 L276.0,372.6 L276.5,372.6 L277.0,372.6 L277.5,372.7 L278.0,372.7 L278.5,372.7 L279.0,372.7 L279.5,372.7 L280.0,372.7 L280.5,372.7 L281.0,372.7 L281.5,372.7 L282.0,372.7 L282.5,372.7 L283.0,372.8 L283.5,372.8 L284.0,372.8 L284.5,372.8 L285.0,372.8 L285.5,372.8 L286.0,372.8 L286.5,372.8 L287.0,372.8 L287.5,372.8 L288.0,372.8 L288.5,372.8 L289.0,372.9 L289.5,372.9 L290.0,372.9 L290.5,372.9 L291.0,372.9 L291.5,372.9 L292.0,372.9 L292.5,372.9 L293.0,372.9 L293.5,372.9 L294.0,372.9 L294.5,372.9 L295.0,372.9 L295.5,373.0 L296.0,373.0 L296.5,373.0 L297.0,373.0 L297.5,373.0 L298.0,373.0 L298.5,373.0 L299.0,373.0 L299.5,373.0 L300.0,373.0 L300.5,373.0 L301.0,373.0 L301.5,373.1 L302.0,373.1 L302.5,373.1 L303.0,373.1 L303.5,373.1 L304.0,373.1 L304.5,373.1 L305.0,373.1 L305.5,373.1 L306.0,373.1 L306.5,373.1 L307.0,373.1 L307.5,373.2 L308.0,373.2 L308.5,373.2 L309.0,373.2 L309.5,373.2 L310.0,373.2 L310.5,373.2 L311.0,373.2 L311.5,373.2 L312.0,373.2 L312.5,373.2 L313.0,373.2 L313.5,373.2 L314.0,373.3 L314.5,373.3 L315.0,373.3 L315.5,373.3 L316.0,373.3 L316.5,373.3 L317.0,373.3 L317.5,373.3 L318.0,373.3 L318.5,373.3 L319.0,373.3 L319.5,373.3 L320.0,373.3 L320.5,373.4 L321.0,373.4 L321.5,373.4 L322.0,373.4 L322.5,373.4 L323.0,373.4 L323.5,373.4 L324.0,373.4 L324.5,373.4 L325.0,373.4 L325.5,373.4 L326.0,373.4 L326.5,373.4 L327.0,373.4 L327.5,373.4 L328.0,373.4 L328.5,373.5 L329.0,373.5 L329.5,373.5 L330.0,373.5 L330.5,373.5 L331.0,373.5 L331.5,373.5 L332.0,373.5 L332.5,373.5 L333.0,373.5 L333.5,373.5 L334.0,373.5 L334.5,373.5 L335.0,373.5 L335.5,373.5 L336.0,373.5 L336.5,373.5 L337.0,373.5 L337.5,373.5 L338.0,373.5 L338.5,373.5 L339.0,373.5 L339.5,373.5 L340.0,373.5 L340.5,373.6 L341.0,373.6 L341.5,373.6 L342.0,373.6 L342.5,373.6 L343.0,373.6 L343.5,373.6 L344.0,373.6 L344.5,373.6 L345.0,373.6 L345.5,373.6 L346.0,373.6 L346.5,373.6 L347.0,373.6 L347.5,373.6 L348.0,373.6 L348.5,373.6 L349.0,373.6 L349.5,373.6 L350.0,373.6 L350.5,373.6 L351.0,373.6 L351.5,373.6 L352.0,373.6 L352.5,373.6 L353.0,373.6 L353.5,373.6 L354.0,373.6 L354.5,373.6 L355.0,373.6 L355.5,373.6 L356.0,373.6 L356.5,373.6 L357.0,373.6 L357.5,373.6 L358.0,373.6 L358.5,373.6 L359.0,373.6 L359.5,373.6 L360.0,373.6 L360.5,373.6 L361.0,373.6 L361.5,373.6 L362.0,373.6 L362.5,373.6 L363.0,373.6 L363.5,373.6 L364.0,373.6 L364.5,373.6 L365.0,373.6 L365.5,373.6 L366.0,373.6 L366.5,373.6 L367.0,373.6 L367.5,373.6 L368.0,373.6 L368.5,373.6 L369.0,373.6 L369.5,373.6 L370.0,373.6 L370.5,373.6 L371.0,373.6 L371.5,373.6 L372.0,373.6 L372.5,373.6 L373.0,373.6 L373.5,373.6 L374.0,373.6 L374.5,373.6 L375.0,373.6 L375.5,373.6 L376.0,373.6 L376.5,373.6 L377.0,373.6 L377.5,373.6 L378.0,373.6 L378.5,373.6 L379.0,373.6 L379.5,373.5 L380.0,373.5 L380.5,373.5 L381.0,373.5 L381.5,373.5 L382.0,373.5 L382.5,373.5 L383.0,373.5 L383.5,373.5 L384.0,373.5 L384.5,373.5 L385.0,373.4 L385.5,373.4 L386.0,373.4 L386.5,373.4 L387.0,373.4 L387.5,373.4 L388.0,373.4 L388.5,373.3 L389.0,373.3 L389.5,373.3 L390.0,373.3 L390.5,373.3 L391.0,373.2 L391.5,373.2 L392.0,373.2 L392.5,373.2 L393.0,373.2 L393.5,373.1 L394.0,373.1 L394.5,373.1 L395.0,373.1 L395.5,373.0 L396.0,373.0 L396.5,373.0 L397.0,373.0 L397.5,373.0 L398.0,373.0 L398.5,373.0 L399.0,373.0 L399.5,373.0 L400.0,373.0 L400.5,373.0 L401.0,373.0 L401.5,373.0 L402.0,373.0 L402.5,373.0 L403.0,373.1 L403.5,373.1 L404.0,373.1 L404.5,373.1 L405.0,373.2 L405.5,373.2 L406.0,373.2 L406.5,373.3 L407.0,373.3 L407.5,373.3 L408.0,373.4 L408.5,373.4 L409.0,373.4 L409.5,373.5 L410.0,373.5 L410.5,373.5 L411.0,373.6 L411.5,373.6 L412.0,373.6 L412.5,373.7 L413.0,373.7 L413.5,373.8 L414.0,373.8 L414.5,373.8 L415.0,373.9 L415.5,373.9 L416.0,374.0 L416.5,374.0 L417.0,374.0 L417.5,374.1 L418.0,374.1 L418.5,374.1 L419.0,374.2 L419.5,374.2 L420.0,374.2 L420.5,374.3 L421.0,374.3 L421.5,374.3 L422.0,374.3 L422.5,374.4 L423.0,374.4 L423.5,374.4 L424.0,374.4 L424.5,374.4 L425.0,374.4 L425.5,374.4 L426.0,374.4 L426.5,374.4 L427.0,374.4 L427.5,374.4 L428.0,374.4 L428.5,374.4 L429.0,374.4 L429.5,374.4 L430.0,374.4 L430.5,374.4 L431.0,374.4 L431.5,374.4 L432.0,374.4 L432.5,374.4 L433.0,374.4 L433.5,374.4 L434.0,374.4 L434.5,374.4 L435.0,374.4 L435.5,374.4 L436.0,374.4 L436.5,374.4 L437.0,374.4 L437.5,374.4 L438.0,374.4 L438.5,374.4 L439.0,374.4 L439.5,374.4 L440.0,374.4 L440.5,374.4 L441.0,374.4 L441.5,374.4 L442.0,374.4 L442.5,374.4 L443.0,374.4 L443.5,374.4 L444.0,374.4 L444.5,374.4 L445.0,374.4 L445.5,374.4 L446.0,374.4 L446.5,374.4 L447.0,374.4 L447.5,374.4 L448.0,374.4 L448.5,374.4 L449.0,374.4 L449.5,374.4 L450.0,374.4 L450.5,374.4 L451.0,374.4 L451.5,374.4 L452.0,374.4 L452.5,374.4 L453.0,374.5 L453.5,374.5 L454.0,374.5 L454.5,374.5 L455.0,374.5 L455.5,374.5 L456.0,374.5 L456.5,374.5 L457.0,374.5 L457.5,374.5 L458.0,374.5 L458.5,374.5 L459.0,374.5 L459.5,374.5 L460.0,374.5 L460.5,374.5 L461.0,374.5 L461.5,374.5 L462.0,374.5 L462.5,374.5 L463.0,374.5 L463.5,374.5 L464.0,374.5 L464.5,374.5 L465.0,374.6 L465.5,374.6 L466.0,374.6 L466.5,374.6 L467.0,374.6 L467.5,374.6 L468.0,374.6 L468.5,374.6 L469.0,374.6 L469.5,374.6 L470.0,374.6 L470.5,374.6 L471.0,374.6 L471.5,374.6 L472.0,374.6 L472.5,374.6 L473.0,374.6 L473.5,374.6 L474.0,374.6 L474.5,374.6 L475.0,374.6 L475.5,374.6 L476.0,374.6 L476.5,374.6 L477.0,374.6 L477.5,374.6 L478.0,374.6 L478.5,374.6 L479.0,374.6 L479.5,374.6 L480.0,374.6 L480.5,374.6 L481.0,374.6 L481.5,374.6 L482.0,374.6 L482.5,374.6 L483.0,374.6 L483.5,374.6 L484.0,374.6 L484.5,374.6 L485.0,374.6 L485.5,374.6 L486.0,374.6 L486.5,374.6 L487.0,374.6 L487.5,374.6 L488.0,374.5 L488.5,374.5 L489.0,374.5 L489.5,374.5 L490.0,374.5 L490.5,374.5 L491.0,374.5 L491.5,374.5 L492.0,374.5 L492.5,374.5 L493.0,374.4 L493.5,374.4 L494.0,374.4 L494.5,374.4 L495.0,374.4 L495.5,374.4 L496.0,374.3 L496.5,374.3 L497.0,374.3 L497.5,374.3 L498.0,374.3 L498.5,374.3 L499.0,374.2 L499.5,374.2 L500.0,374.2 L500.5,374.2 L501.0,374.2 L501.5,374.1 L502.0,374.1 L502.5,374.1 L503.0,374.0 L503.5,374.0 L504.0,373.9 L504.5,373.9 L505.0,373.8 L505.5,373.8 L506.0,373.7 L506.5,373.6 L507.0,373.6 L507.5,373.5 L508.0,373.4 L508.5,373.3 L509.0,373.2 L509.5,373.1 L510.0,373.0 L510.5,372.9 L511.0,372.8 L511.5,372.7 L512.0,372.6 L512.5,372.4 L513.0,372.3 L513.5,372.1 L514.0,371.9 L514.5,371.7 L515.0,371.4 L515.5,371.2 L516.0,370.9 L516.5,370.5 L517.0,370.1 L517.5,369.7 L518.0,369.1 L518.5,368.6 L519.0,367.9 L519.5,367.3 L520.0,366.7 L520.5,366.2 L521.0,365.9 L521.5,365.8 L522.0,365.9 L522.5,366.3 L523.0,366.8 L523.5,367.4 L524.0,368.0 L524.5,368.5 L525.0,369.0 L525.5,369.4 L526.0,369.7 L526.5,370.0 L527.0,370.2 L527.5,370.4 L528.0,370.5 L528.5,370.6 L529.0,370.7 L529.5,370.8 L530.0,370.9 L530.5,370.9 L531.0,371.0 L531.5,371.0 L532.0,371.0 L532.5,371.1 L533.0,371.1 L533.5,371.1 L534.0,371.1 L534.5,371.1 L535.0,371.1 L535.5,371.1 L536.0,371.1 L536.5,371.1 L537.0,371.1 L537.5,371.1 L538.0,371.1 L538.5,371.1 L539.0,371.1 L539.5,371.1 L540.0,371.1 L540.5,371.1 L541.0,371.1 L541.5,371.1 L542.0,371.1 L542.5,371.1 L543.0,371.1 L543.5,371.1 L544.0,371.1 L544.5,371.1 L545.0,371.1 L545.5,371.1 L546.0,371.0 L546.5,371.0 L547.0,371.0 L547.5,371.0 L548.0,371.0 L548.5,371.0 L549.0,371.0 L549.5,371.0 L550.0,371.0 L550.5,371.0 L551.0,371.0 L551.5,371.0 L552.0,371.1 L552.5,371.1 L553.0,371.1 L553.5,371.2 L554.0,371.2 L554.5,371.2 L555.0,371.3 L555.5,371.4 L556.0,371.4 L556.5,371.5 L557.0,371.5 L557.5,371.6 L558.0,371.7 L558.5,371.7 L559.0,371.8 L559.5,371.9 L560.0,371.9 L560.5,372.0 L561.0,372.1 L561.5,372.1 L562.0,372.2 L562.5,372.2 L563.0,372.3 L563.5,372.4 L564.0,372.4 L564.5,372.5 L565.0,372.6 L565.5,372.6 L566.0,372.7 L566.5,372.8 L567.0,372.8 L567.5,372.9 L568.0,372.9 L568.5,373.0 L569.0,373.1 L569.5,373.1 L570.0,373.2 L570.5,373.3 L571.0,373.3 L571.5,373.4 L572.0,373.4 L572.5,373.5 L573.0,373.5 L573.5,373.6 L574.0,373.7 L574.5,373.7 L575.0,373.8 L575.5,373.8 L576.0,373.9 L576.5,373.9 L577.0,374.0 L577.5,374.0 L578.0,374.1 L578.5,374.1 L579.0,374.2 L579.5,374.2 L580.0,374.3 L580.5,374.3 L581.0,374.4 L581.5,374.4 L582.0,374.5 L582.5,374.5 L583.0,374.6 L583.5,374.7 L584.0,374.7 L584.5,374.8 L585.0,374.8 L585.5,374.9 L586.0,374.9 L586.5,375.0 L587.0,375.1 L587.5,375.1 L588.0,375.2 L588.5,375.2 L589.0,375.3 L589.5,375.4 L590.0,375.4 L590.5,375.5 L591.0,375.5 L591.5,375.6 L592.0,375.7 L592.5,375.7 L593.0,375.8 L593.5,375.8 L594.0,375.9 L594.5,376.0 L595.0,376.0 L595.5,376.1 L596.0,376.2 L596.5,376.2" stroke="#111" stroke-width="2.3" fill="none" stroke-linejoin="round"/>

<path d="M127.2,28 H609.6 V382.6 H127.2 Z" fill="none" stroke="#111" stroke-width="1.9"/><line x1="120.2" y1="382.60" x2="127.2" y2="382.60" stroke="#111" stroke-width="1.9"/><line x1="123.2" y1="338.27" x2="127.2" y2="338.27" stroke="#111" stroke-width="1.9"/><line x1="120.2" y1="293.95" x2="127.2" y2="293.95" stroke="#111" stroke-width="1.9"/><line x1="123.2" y1="249.62" x2="127.2" y2="249.62" stroke="#111" stroke-width="1.9"/><line x1="120.2" y1="205.30" x2="127.2" y2="205.30" stroke="#111" stroke-width="1.9"/><line x1="123.2" y1="160.97" x2="127.2" y2="160.97" stroke="#111" stroke-width="1.9"/><line x1="120.2" y1="116.64" x2="127.2" y2="116.64" stroke="#111" stroke-width="1.9"/><line x1="123.2" y1="72.32" x2="127.2" y2="72.32" stroke="#111" stroke-width="1.9"/><line x1="120.2" y1="27.99" x2="127.2" y2="27.99" stroke="#111" stroke-width="1.9"/><line x1="127.20" y1="382.6" x2="127.20" y2="389.6" stroke="#111" stroke-width="1.9"/><line x1="194.20" y1="382.6" x2="194.20" y2="386.6" stroke="#111" stroke-width="1.9"/><line x1="261.20" y1="382.6" x2="261.20" y2="389.6" stroke="#111" stroke-width="1.9"/><line x1="328.20" y1="382.6" x2="328.20" y2="386.6" stroke="#111" stroke-width="1.9"/><line x1="395.20" y1="382.6" x2="395.20" y2="389.6" stroke="#111" stroke-width="1.9"/><line x1="462.20" y1="382.6" x2="462.20" y2="386.6" stroke="#111" stroke-width="1.9"/><line x1="529.20" y1="382.6" x2="529.20" y2="389.6" stroke="#111" stroke-width="1.9"/><line x1="596.20" y1="382.6" x2="596.20" y2="386.6" stroke="#111" stroke-width="1.9"/><path d="M609.6,147.3 H317.1 V28" fill="none" stroke="#444" stroke-width="1.1"/><line x1="323.9" y1="42.6" x2="364.4" y2="42.6" stroke="#d41a1e" stroke-width="2.3"/><line x1="323.9" y1="66.5" x2="364.4" y2="66.5" stroke="#1818c8" stroke-width="2.3"/><line x1="323.9" y1="90.0" x2="364.4" y2="90.0" stroke="#d03a44" stroke-width="1.6" stroke-dasharray="5 3.8"/><line x1="323.9" y1="113.6" x2="364.4" y2="113.6" stroke="#3434c0" stroke-width="1.6" stroke-dasharray="5 3.8"/><line x1="323.9" y1="137.3" x2="364.4" y2="137.3" stroke="#111" stroke-width="2.3"/>
<text transform="translate(76.72,33.00) scale(1.0848,1)" font-size="15.6" font-weight="bold" fill="#000">1600</text><text transform="translate(76.92,121.30) scale(1.0818,1)" font-size="15.6" font-weight="bold" fill="#000">1200</text><text transform="translate(86.67,210.30) scale(1.0600,1)" font-size="15.6" font-weight="bold" fill="#000">800</text><text transform="translate(86.94,298.90) scale(1.0495,1)" font-size="15.6" font-weight="bold" fill="#000">400</text><text transform="translate(105.47,387.30) scale(1.0667,1)" font-size="15.6" font-weight="bold" fill="#000">0</text><text transform="translate(111.87,405.60) scale(1.0818,1)" font-size="15.6" font-weight="bold" fill="#000">1000</text><text transform="translate(245.57,405.60) scale(1.0818,1)" font-size="15.6" font-weight="bold" fill="#000">1200</text><text transform="translate(380.17,405.60) scale(1.0818,1)" font-size="15.6" font-weight="bold" fill="#000">1400</text><text transform="translate(514.07,405.60) scale(1.0818,1)" font-size="15.6" font-weight="bold" fill="#000">1600</text><text transform="translate(269.37,452.20) scale(1.0625,1)" font-size="20.4" font-weight="bold" fill="#000">Raman Shift (cm</text><text transform="translate(441.30,442.50) scale(1.0623,1)" font-size="18.5" font-weight="bold" fill="#000">-1</text><text transform="translate(461.00,452.20) scale(0.9391,1)" font-size="20.4" font-weight="bold" fill="#000">)</text><text transform="translate(369.80,48.30) scale(1.0517,1)" font-size="17.7" font-weight="bold" fill="#000">With small molecules +</text><text transform="translate(369.80,71.90) scale(1.0525,1)" font-size="17.7" font-weight="bold" fill="#000">Without small molecules +</text><text transform="translate(369.80,95.70) scale(1.0551,1)" font-size="17.7" font-weight="bold" fill="#000">With small molecules -</text><text transform="translate(369.80,119.30) scale(1.0568,1)" font-size="17.7" font-weight="bold" fill="#000">Without small molecules -</text><text transform="translate(368.48,143.00) scale(1.0588,1)" font-size="17.7" font-weight="bold" fill="#000">Blank</text><text transform="translate(81.69,484.70) scale(1.1063,1)" font-size="13.2" font-weight="normal" fill="#000">1600</text><text transform="translate(81.69,575.30) scale(1.1063,1)" font-size="13.2" font-weight="normal" fill="#000">1200</text><text transform="translate(89.75,666.10) scale(1.1048,1)" font-size="13.2" font-weight="normal" fill="#000">800</text><text transform="translate(90.03,756.70) scale(1.0918,1)" font-size="13.2" font-weight="normal" fill="#000">400</text><text transform="translate(105.94,847.40) scale(1.1200,1)" font-size="13.2" font-weight="normal" fill="#000">0</text><text transform="translate(151.90,866.50) scale(1.0984,1)" font-size="13.1" font-weight="normal" fill="#000">DNA target</text><text transform="translate(293.82,866.30) scale(0.9822,1)" font-size="13.1" font-weight="normal" fill="#000">NTC</text><text transform="translate(408.78,866.50) scale(1.0951,1)" font-size="13.1" font-weight="normal" fill="#000">blank</text><text transform="translate(517.50,663.60) scale(0.9992,1)" font-size="14.4" font-weight="normal" fill="#000">with small molecules</text><text transform="translate(517.50,689.10) scale(1.0079,1)" font-size="14.4" font-weight="normal" fill="#000">without small molecules</text><text transform="translate(60.80,323.99) rotate(-90) scale(0.9937,1)" font-size="22.5" font-weight="bold" fill="#000">Raman Intensity (a.u.)</text><text transform="translate(75.00,809.15) rotate(-90) scale(1.0034,1)" font-size="18.3" font-weight="bold" fill="#000">Raman Intensity at 1076 cm</text><text transform="translate(68.70,568.29) rotate(-90) scale(0.9846,1)" font-size="11.9" font-weight="bold" fill="#000">-1</text><text transform="translate(75.00,550.63) rotate(-90) scale(1.0299,1)" font-size="18.3" font-weight="bold" fill="#000">(a.u.)</text>
</svg>
</body></html>
